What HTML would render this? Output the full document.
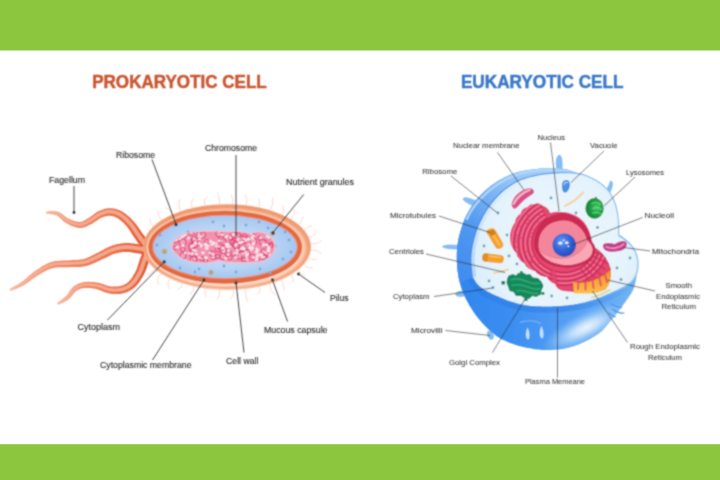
<!DOCTYPE html>
<html lang="en">
<head>
<meta charset="utf-8">
<title>Prokaryotic Cell vs Eukaryotic Cell</title>
<style>
html,body{margin:0;padding:0;background:#fff;}
body{width:720px;height:480px;overflow:hidden;position:relative;font-family:"Liberation Sans",sans-serif;}
.bar{position:absolute;left:0;width:720px;background:#8cc63f;}
#top{top:0;height:50.5px;}
#bot{top:444.2px;height:36px;}
svg{position:absolute;left:0;top:0;}
.t{font-family:"Liberation Sans",sans-serif;font-weight:bold;font-size:17.8px;stroke-width:0.5px;stroke-linejoin:round;}
.l{font-family:"Liberation Sans",sans-serif;font-size:8.4px;fill:#2c2c2c;stroke:#2c2c2c;stroke-width:0.12px;}
.l.e{font-size:7.8px;fill:#383838;stroke:#383838;stroke-width:0.06px;}
.ln{stroke:#3c3c3c;stroke-width:0.95;fill:none;}
</style>
</head>
<body>
<svg width="720" height="480" viewBox="0 0 720 480">
<defs>
<filter id="soft2" x="0" y="0" width="720" height="480" filterUnits="userSpaceOnUse"><feConvolveMatrix order="3" kernelMatrix="0.45 1 0.45 1 3.2 1 0.45 1 0.45" divisor="9" edgeMode="duplicate" preserveAlpha="false"/></filter>
<radialGradient id="cyto" cx="0.5" cy="0.5" r="0.6">
<stop offset="0" stop-color="#cfe2f9"/><stop offset="0.6" stop-color="#b6d2f4"/><stop offset="1" stop-color="#9cc0ee"/>
</radialGradient>
<linearGradient id="flg0" gradientUnits="userSpaceOnUse" x1="46" y1="0" x2="146" y2="0">
<stop offset="0" stop-color="#f8bba5"/><stop offset="0.3" stop-color="#f08a68"/><stop offset="0.8" stop-color="#e96b45"/><stop offset="1" stop-color="#de5832"/>
</linearGradient>
<linearGradient id="flg1" gradientUnits="userSpaceOnUse" x1="10" y1="0" x2="150" y2="0">
<stop offset="0" stop-color="#f8bba5"/><stop offset="0.3" stop-color="#f08a68"/><stop offset="0.8" stop-color="#e96b45"/><stop offset="1" stop-color="#de5832"/>
</linearGradient>
<linearGradient id="flg2" gradientUnits="userSpaceOnUse" x1="57" y1="0" x2="147" y2="0">
<stop offset="0" stop-color="#f8bba5"/><stop offset="0.3" stop-color="#f08a68"/><stop offset="0.8" stop-color="#e96b45"/><stop offset="1" stop-color="#de5832"/>
</linearGradient>
<linearGradient id="sph" gradientUnits="userSpaceOnUse" x1="460" y1="300" x2="640" y2="310">
<stop offset="0" stop-color="#3186ee"/><stop offset="0.3" stop-color="#3b8ef1"/><stop offset="0.55" stop-color="#509bf4"/><stop offset="0.85" stop-color="#66acf3"/><stop offset="1" stop-color="#76b8f3"/>
</linearGradient>
<radialGradient id="sphhl" gradientUnits="userSpaceOnUse" cx="0" cy="0" r="1" gradientTransform="translate(586 327.500) rotate(-27) scale(50 16)">
<stop offset="0" stop-color="#eaf5fe" stop-opacity="1"/><stop offset="0.3" stop-color="#c8e2fb" stop-opacity="0.95"/><stop offset="0.65" stop-color="#96c8f8" stop-opacity="0.6"/><stop offset="1" stop-color="#6fb0f5" stop-opacity="0"/>
</radialGradient>
<linearGradient id="shell" gradientUnits="userSpaceOnUse" x1="560" y1="170" x2="462" y2="270">
<stop offset="0" stop-color="#a9d3f9"/><stop offset="0.3" stop-color="#92c4f6"/><stop offset="0.5" stop-color="#74b1f3"/><stop offset="0.72" stop-color="#5099f1"/><stop offset="1" stop-color="#438eef"/>
</linearGradient>
<linearGradient id="band" gradientUnits="userSpaceOnUse" x1="520" y1="180" x2="472" y2="270">
<stop offset="0" stop-color="#c6e0f8" stop-opacity="0"/><stop offset="0.5" stop-color="#c0dcf8" stop-opacity="0.5"/><stop offset="1" stop-color="#b2d5f7" stop-opacity="0.95"/>
</linearGradient>
<radialGradient id="face" gradientUnits="userSpaceOnUse" cx="560" cy="245" r="95">
<stop offset="0" stop-color="#edf7fd"/><stop offset="0.7" stop-color="#e5f3fc"/><stop offset="1" stop-color="#d9eefa"/>
</radialGradient>
<radialGradient id="nucl" cx="0.4" cy="0.35" r="0.7">
<stop offset="0" stop-color="#6a9cf5"/><stop offset="0.5" stop-color="#3566d8"/><stop offset="1" stop-color="#2448b8"/>
</radialGradient>
<radialGradient id="lys" cx="0.62" cy="0.45" r="0.7">
<stop offset="0" stop-color="#45cc66"/><stop offset="0.45" stop-color="#1fa044"/><stop offset="1" stop-color="#0d7a32"/>
</radialGradient>
<linearGradient id="ser" x1="0" y1="0" x2="0" y2="1">
<stop offset="0" stop-color="#f08a2a"/><stop offset="1" stop-color="#fbc04a"/>
</linearGradient>
<linearGradient id="edge" gradientUnits="userSpaceOnUse" x1="475" y1="0" x2="620" y2="0">
<stop offset="0" stop-color="#3f86e6"/><stop offset="0.5" stop-color="#5b9dea"/><stop offset="0.75" stop-color="#86baf0"/><stop offset="1" stop-color="#8cbdee"/>
</linearGradient>
<linearGradient id="edgeb" gradientUnits="userSpaceOnUse" x1="475" y1="0" x2="638" y2="0">
<stop offset="0" stop-color="#2c7ee8"/><stop offset="0.6" stop-color="#3f8cec"/><stop offset="0.85" stop-color="#6fb0f0"/><stop offset="1" stop-color="#9ccbf2"/>
</linearGradient>
<linearGradient id="dband" gradientUnits="userSpaceOnUse" x1="475" y1="0" x2="638" y2="0">
<stop offset="0" stop-color="#2a7be6" stop-opacity="0.55"/><stop offset="0.6" stop-color="#2a7be6" stop-opacity="0.5"/><stop offset="0.85" stop-color="#3a88ea" stop-opacity="0.25"/><stop offset="1" stop-color="#4a98ee" stop-opacity="0"/>
</linearGradient>
<linearGradient id="caps" x1="0" y1="0" x2="0" y2="1">
<stop offset="0" stop-color="#f2a078"/><stop offset="0.5" stop-color="#f3a680"/><stop offset="1" stop-color="#f9c8ae"/>
</linearGradient>
<linearGradient id="caps2" x1="0" y1="0" x2="0" y2="1">
<stop offset="0" stop-color="#f8c09e"/><stop offset="0.5" stop-color="#f9c8aa"/><stop offset="1" stop-color="#fcdccc"/>
</linearGradient>
<clipPath id="sphclip"><path d="M566.0 169.3 L564.4 169.0 L563.0 168.7 L561.5 168.5 L560.2 168.4 L558.8 168.3 L557.5 168.3 L556.2 168.3 L554.8 168.3 L553.4 168.3 L552.0 168.3 L550.6 168.3 L549.1 168.3 L547.7 168.3 L546.3 168.3 L544.8 168.3 L543.3 168.4 L541.8 168.5 L540.2 168.6 L538.5 168.8 L536.7 169.0 L534.8 169.2 L532.7 169.5 L530.6 169.8 L528.4 170.1 L526.1 170.4 L523.9 170.8 L521.6 171.3 L519.3 171.8 L517.1 172.3 L515.0 173.0 L512.9 173.7 L510.8 174.5 L508.8 175.4 L506.7 176.3 L504.7 177.3 L502.7 178.4 L500.7 179.4 L498.8 180.6 L496.9 181.8 L495.0 183.0 L493.2 184.3 L491.3 185.6 L489.5 187.1 L487.7 188.5 L486.0 190.1 L484.2 191.6 L482.6 193.2 L481.0 194.8 L479.5 196.4 L478.0 198.0 L476.6 199.6 L475.3 201.3 L474.0 202.9 L472.8 204.6 L471.7 206.3 L470.6 208.0 L469.6 209.8 L468.6 211.5 L467.6 213.3 L466.7 215.0 L465.8 216.8 L465.0 218.6 L464.2 220.4 L463.5 222.2 L462.8 224.0 L462.2 225.8 L461.6 227.6 L461.0 229.4 L460.5 231.2 L460.0 233.0 L459.5 234.7 L459.1 236.4 L458.7 238.1 L458.4 239.7 L458.1 241.4 L457.8 243.0 L457.5 244.7 L457.3 246.4 L457.1 248.2 L457.0 250.0 L456.9 251.9 L456.8 253.9 L456.8 255.9 L456.8 257.9 L456.8 260.0 L456.9 262.1 L457.0 264.1 L457.2 266.1 L457.3 268.1 L457.5 270.0 L457.7 271.8 L458.0 273.6 L458.3 275.4 L458.6 277.2 L458.9 278.9 L459.3 280.6 L459.7 282.2 L460.1 283.8 L460.5 285.4 L461.0 287.0 L461.5 288.5 L462.0 289.9 L462.5 291.3 L463.0 292.7 L463.5 294.0 L464.1 295.3 L464.8 296.7 L465.4 298.1 L466.2 299.5 L467.0 301.0 L467.9 302.6 L468.8 304.2 L469.7 305.9 L470.8 307.6 L471.8 309.3 L472.9 311.1 L474.1 312.8 L475.3 314.6 L476.6 316.3 L478.0 318.0 L479.5 319.7 L481.0 321.5 L482.7 323.4 L484.4 325.2 L486.1 327.0 L487.9 328.8 L489.7 330.5 L491.5 332.1 L493.3 333.6 L495.0 335.0 L496.7 336.2 L498.4 337.3 L500.0 338.3 L501.7 339.2 L503.4 340.0 L505.1 340.8 L506.7 341.5 L508.4 342.2 L510.0 342.9 L511.7 343.5 L513.3 344.1 L515.0 344.7 L516.6 345.2 L518.2 345.7 L519.8 346.2 L521.4 346.6 L523.0 347.0 L524.6 347.3 L526.3 347.7 L528.0 348.0 L529.7 348.3 L531.5 348.6 L533.2 348.9 L535.0 349.2 L536.8 349.4 L538.6 349.6 L540.4 349.8 L542.2 349.9 L544.1 350.0 L546.0 350.0 L547.9 350.0 L549.9 350.0 L551.9 349.9 L554.0 349.8 L556.0 349.6 L558.0 349.4 L560.1 349.2 L562.1 348.9 L564.1 348.6 L566.0 348.2 L567.9 347.8 L569.8 347.3 L571.6 346.8 L573.4 346.2 L575.2 345.6 L577.0 344.9 L578.8 344.2 L580.6 343.5 L582.3 342.8 L584.0 342.0 L585.7 341.2 L587.4 340.3 L589.1 339.4 L590.8 338.5 L592.5 337.6 L594.1 336.6 L595.7 335.6 L597.2 334.5 L598.7 333.5 L600.0 332.5 L601.3 331.5 L602.4 330.4 L603.5 329.2 L604.6 328.1 L605.5 327.0 L606.5 325.8 L607.4 324.7 L608.3 323.6 L609.1 322.5 L610.0 321.5 L610.8 320.5 L611.6 319.6 L612.4 318.8 L613.1 317.9 L613.8 317.1 L614.5 316.3 L615.2 315.4 L615.9 314.5 L616.7 313.6 L617.5 312.5 L618.4 311.3 L619.3 310.1 L620.3 308.8 L621.3 307.4 L622.3 306.0 L623.4 304.6 L624.3 303.3 L625.3 301.9 L626.2 300.7 L627.0 299.5 L627.8 298.4 L628.5 297.4 L629.1 296.5 L629.8 295.6 L630.4 294.7 L631.0 293.8 L631.5 292.9 L632.0 292.0 L632.5 291.0 L633.0 290.0 L633.5 288.9 L633.9 287.7 L634.3 286.5 L634.7 285.3 L635.0 284.0 L635.3 282.8 L635.6 281.5 L635.9 280.3 L636.1 279.1 L636.3 278.0 L636.5 276.9 L636.6 275.9 L636.7 274.9 L636.7 273.9 L636.8 272.9 L636.8 271.9 L636.7 270.9 L636.7 270.0 L636.6 269.0 L636.5 268.0 L636.4 267.0 L636.3 266.0 L636.2 265.1 L636.0 264.1 L635.8 263.1 L635.6 262.1 L635.3 261.1 L635.0 260.1 L634.5 259.1 L634.0 258.0 L633.4 256.9 L632.6 255.8 L631.8 254.7 L630.9 253.6 L630.0 252.5 L629.0 251.3 L628.0 250.1 L627.0 248.8 L626.0 247.5 L625.0 246.0 L624.0 244.5 L623.0 242.9 L621.9 241.4 L620.8 239.7 L619.7 238.0 L618.6 236.2 L617.6 234.3 L616.6 232.3 L615.8 230.2 L615.0 228.0 L614.4 225.5 L614.0 222.8 L613.6 219.9 L613.4 216.9 L613.2 213.8 L613.0 210.8 L612.7 207.8 L612.3 205.0 L611.7 202.3 L611.0 200.0 L610.1 197.9 L609.0 196.0 L607.8 194.2 L606.5 192.6 L605.1 191.0 L603.7 189.6 L602.3 188.2 L600.8 187.0 L599.4 185.7 L598.0 184.5 L596.7 183.4 L595.3 182.3 L594.0 181.4 L592.7 180.5 L591.3 179.7 L589.9 178.9 L588.5 178.2 L587.1 177.5 L585.6 176.7 L584.0 176.0 L582.3 175.2 L580.6 174.5 L578.8 173.7 L576.9 172.9 L575.0 172.2 L573.1 171.5 L571.2 170.8 L569.4 170.2 L567.7 169.7Z"/></clipPath>
<clipPath id="faceclip"><path d="M618.6 235.3 L618.9 235.5 L619.2 235.7 L619.7 235.9 L620.1 236.2 L620.6 236.5 L621.2 236.9 L621.8 237.3 L622.3 237.6 L622.9 238.1 L623.5 238.5 L624.1 239.0 L624.7 239.5 L625.4 240.0 L626.1 240.5 L626.7 241.1 L627.4 241.7 L628.1 242.3 L628.8 242.9 L629.4 243.6 L630.0 244.2 L630.6 244.8 L631.1 245.5 L631.7 246.1 L632.2 246.8 L632.8 247.5 L633.3 248.2 L633.7 248.9 L634.2 249.6 L634.6 250.3 L635.0 251.0 L635.4 251.7 L635.7 252.5 L636.0 253.2 L636.2 254.0 L636.5 254.8 L636.7 255.5 L636.9 256.3 L637.1 257.1 L637.3 257.8 L637.4 258.5 L637.5 259.2 L637.6 259.9 L637.7 260.5 L637.8 261.1 L637.8 261.8 L637.8 262.4 L637.8 263.0 L637.8 263.7 L637.8 264.3 L637.8 265.0 L637.8 265.7 L637.8 266.4 L637.7 267.0 L637.7 267.7 L637.7 268.4 L637.6 269.1 L637.5 269.8 L637.4 270.5 L637.2 271.3 L637.0 272.0 L636.7 272.8 L636.5 273.6 L636.2 274.4 L635.8 275.2 L635.5 276.0 L635.0 276.9 L634.6 277.7 L634.1 278.5 L633.6 279.3 L633.0 280.0 L632.4 280.7 L631.7 281.4 L631.1 282.1 L630.3 282.7 L629.6 283.3 L628.8 284.0 L627.9 284.6 L627.0 285.2 L626.0 285.9 L625.0 286.5 L623.9 287.1 L622.8 287.8 L621.6 288.4 L620.4 289.1 L619.1 289.7 L617.7 290.4 L616.4 291.0 L614.9 291.7 L613.5 292.3 L612.0 293.0 L610.5 293.7 L608.9 294.4 L607.2 295.1 L605.5 295.9 L603.8 296.6 L602.0 297.4 L600.2 298.1 L598.5 298.8 L596.7 299.4 L595.0 300.0 L593.3 300.6 L591.7 301.1 L590.1 301.6 L588.4 302.1 L586.8 302.5 L585.2 303.0 L583.5 303.4 L581.7 303.8 L579.9 304.1 L578.0 304.5 L576.0 304.8 L574.0 305.2 L571.9 305.5 L569.8 305.8 L567.6 306.1 L565.3 306.3 L563.1 306.5 L560.7 306.7 L558.4 306.9 L556.0 307.0 L553.5 307.1 L551.0 307.2 L548.3 307.2 L545.6 307.2 L542.9 307.2 L540.2 307.1 L537.5 307.0 L534.9 306.9 L532.4 306.7 L530.0 306.5 L527.7 306.2 L525.6 305.9 L523.5 305.5 L521.4 305.1 L519.4 304.7 L517.5 304.2 L515.6 303.7 L513.7 303.1 L511.9 302.6 L510.0 302.0 L508.2 301.4 L506.3 300.7 L504.5 300.1 L502.7 299.3 L500.9 298.6 L499.2 297.8 L497.6 297.1 L496.0 296.4 L494.4 295.7 L493.0 295.0 L491.6 294.4 L490.3 293.7 L489.1 293.1 L487.9 292.5 L486.8 291.9 L485.8 291.3 L484.7 290.7 L483.8 290.2 L482.9 289.6 L482.0 289.0 L481.2 288.4 L480.4 287.9 L479.8 287.3 L479.1 286.8 L478.5 286.2 L478.0 285.7 L477.5 285.2 L477.0 284.6 L476.5 284.1 L476.0 283.5 L475.5 282.9 L475.1 282.2 L474.6 281.5 L474.2 280.8 L473.8 280.2 L473.4 279.5 L473.1 278.9 L472.8 278.3 L472.5 277.9 L472.3 277.5 L472.2 276.6 L472.1 275.3 L471.9 273.9 L471.7 272.2 L471.5 270.5 L471.3 268.7 L471.1 266.9 L471.0 265.1 L470.9 263.5 L470.8 262.0 L470.8 260.7 L470.8 259.4 L470.8 258.2 L470.8 257.0 L470.9 255.8 L471.0 254.7 L471.1 253.6 L471.2 252.4 L471.3 251.2 L471.5 250.0 L471.7 248.7 L471.9 247.5 L472.1 246.2 L472.4 244.9 L472.7 243.6 L472.9 242.2 L473.3 240.9 L473.6 239.6 L473.9 238.3 L474.3 237.0 L474.7 235.7 L475.1 234.4 L475.5 233.1 L475.9 231.8 L476.4 230.5 L476.8 229.2 L477.3 227.9 L477.9 226.6 L478.4 225.3 L479.0 224.0 L479.6 222.7 L480.2 221.3 L480.9 219.9 L481.6 218.6 L482.3 217.2 L483.0 215.8 L483.8 214.5 L484.6 213.1 L485.4 211.8 L486.2 210.5 L487.0 209.2 L487.9 207.9 L488.8 206.7 L489.7 205.4 L490.6 204.1 L491.6 202.9 L492.5 201.7 L493.5 200.5 L494.5 199.3 L495.5 198.2 L496.5 197.1 L497.5 196.0 L498.6 194.9 L499.6 193.9 L500.7 192.8 L501.8 191.8 L502.9 190.8 L504.1 189.9 L505.3 188.9 L506.5 188.0 L507.8 187.1 L509.1 186.2 L510.4 185.3 L511.7 184.4 L513.1 183.6 L514.5 182.7 L515.9 181.9 L517.4 181.2 L518.9 180.5 L520.5 179.8 L522.1 179.2 L523.8 178.6 L525.6 178.0 L527.4 177.5 L529.2 177.0 L531.1 176.5 L532.9 176.1 L534.7 175.7 L536.4 175.3 L538.0 175.0 L539.5 174.7 L541.0 174.4 L542.5 174.2 L543.9 174.0 L545.2 173.8 L546.6 173.7 L547.9 173.6 L549.3 173.4 L550.6 173.3 L552.0 173.2 L553.4 173.1 L554.8 173.0 L556.3 172.9 L557.7 172.8 L559.1 172.7 L560.5 172.7 L561.9 172.6 L563.3 172.6 L564.7 172.6 L566.0 172.6 L567.3 172.6 L568.6 172.7 L569.8 172.7 L571.1 172.8 L572.3 172.9 L573.5 173.0 L574.7 173.1 L575.8 173.3 L576.9 173.4 L578.0 173.6 L579.0 173.8 L579.9 173.9 L580.8 174.1 L581.6 174.2 L582.4 174.4 L583.3 174.6 L584.1 174.9 L585.0 175.2 L586.0 175.6 L587.0 176.0 L588.2 176.5 L589.4 177.1 L590.7 177.7 L592.1 178.3 L593.4 179.0 L594.8 179.8 L596.2 180.5 L597.5 181.3 L598.8 182.2 L600.0 183.0 L601.1 183.9 L602.3 184.8 L603.3 185.7 L604.4 186.6 L605.4 187.6 L606.4 188.6 L607.4 189.6 L608.3 190.7 L609.2 191.8 L610.0 193.0 L610.8 194.2 L611.5 195.5 L612.2 196.8 L612.9 198.1 L613.5 199.5 L614.1 200.9 L614.6 202.3 L615.1 203.7 L615.6 205.1 L616.0 206.5 L616.4 207.9 L616.7 209.3 L617.0 210.7 L617.3 212.1 L617.5 213.5 L617.7 214.9 L617.9 216.2 L618.0 217.5 L618.2 218.8 L618.3 220.0 L618.4 221.2 L618.5 222.3 L618.5 223.4 L618.6 224.5 L618.6 225.5 L618.6 226.5 L618.6 227.5 L618.6 228.4 L618.6 229.2 L618.6 230.0 L618.6 230.7 L618.6 231.4 L618.6 232.1 L618.6 232.7 L618.6 233.3 L618.6 233.8 L618.6 234.2 L618.6 234.7 L618.6 235.0 L618.6 235.3Z"/></clipPath>
<clipPath id="shellclip"><path d="M430 293.500 L473 277.500 L560 240 L670 240 L670 140 L430 140 Z"/></clipPath>
<clipPath id="erclip"><path d="M510 240 C509.500 233 512 226 515 222.500 C515.500 218 518 215 520.500 214 C521.500 210 524 207.500 527 207.500 C529 204.500 532 203.500 535 204 C538 203 541.500 204 543 206 C546 206.500 549 209 550 213 C560 210 575 212 584 222 C589 228 592 238 593 246 C600 250 608 258 610.500 268 C611.500 276 609.500 285 605 290 L574 292 L563 291 C559 290 556 287.500 555 284 C551 282.500 548 280 547 277 C541 276.500 537 274 535 271 C530 270 526 267 524.500 263 C520 261 517 257 516.500 253 C513 250 510.500 245 510 240 Z"/></clipPath>

</defs>
<rect x="0" y="0" width="720" height="50.5" fill="#8cc63f"/>
<rect x="0" y="444.2" width="720" height="35.8" fill="#8cc63f"/>
<g filter="url(#soft2)">
<g id="prok">
<g stroke="#f8d3cb" stroke-width="0.9" fill="none" stroke-linecap="round"><path d="M155.6 227.1 Q149.0 224.7 150.2 218.0"/><path d="M162.9 221.7 Q157.8 216.8 157.4 211.2"/><path d="M171.8 216.9 Q172.2 209.4 165.2 207.4"/><path d="M182.2 212.9 Q177.1 206.4 179.6 199.5"/><path d="M193.8 209.8 Q188.8 204.1 193.4 198.4"/><path d="M206.2 207.6 Q201.8 201.8 206.9 196.8"/><path d="M219.1 206.4 Q220.7 198.4 217.2 192.6"/><path d="M232.3 206.3 Q234.2 199.9 231.6 195.4"/><path d="M245.3 207.2 Q248.9 200.3 245.1 194.5"/><path d="M257.8 209.2 Q261.2 203.8 258.5 199.1"/><path d="M269.6 212.2 Q273.5 204.7 273.0 197.9"/><path d="M280.2 216.1 Q286.0 211.6 282.4 205.3"/><path d="M289.5 220.7 Q295.2 216.0 294.3 209.6"/><path d="M297.1 226.0 Q302.6 222.3 303.0 217.0"/><path d="M302.9 231.8 Q306.8 226.4 312.0 225.7"/><path d="M306.8 237.8 Q314.2 237.4 316.7 231.3"/><path d="M308.8 244.0 Q316.4 244.7 321.3 240.9"/><path d="M308.8 250.2 Q316.6 248.8 321.4 253.7"/><path d="M306.8 256.4 Q311.4 261.0 316.6 259.6"/><path d="M302.9 262.4 Q306.1 269.0 312.7 268.0"/><path d="M297.1 268.2 Q299.6 274.0 304.4 275.4"/><path d="M289.5 273.5 Q294.2 277.3 293.1 282.2"/><path d="M280.2 278.1 Q284.7 284.1 284.1 290.0"/><path d="M269.6 282.0 Q269.5 290.7 275.4 295.5"/><path d="M257.8 285.0 Q262.6 289.7 257.5 294.5"/><path d="M245.3 287.0 Q244.7 295.4 247.9 301.5"/><path d="M232.3 287.9 Q235.9 294.2 230.5 298.7"/><path d="M219.1 287.8 Q221.0 294.6 217.2 299.2"/><path d="M206.2 286.6 Q203.2 292.4 206.2 296.9"/><path d="M193.8 284.4 Q194.7 291.1 190.1 294.4"/><path d="M182.2 281.3 Q183.0 287.4 177.9 289.4"/><path d="M171.8 277.3 Q165.4 281.6 169.4 288.4"/><path d="M162.9 272.5 Q155.7 276.5 158.3 284.2"/><path d="M155.6 267.1 Q152.4 273.3 147.1 275.0"/></g>
<path d="M45.9 213.3 L46.5 213.6 L47.2 213.8 L48.1 213.9 L49.0 214.0 L50.0 214.1 L51.1 214.3 L52.1 214.4 L53.2 214.6 L54.2 214.8 L55.1 215.0 L56.0 215.3 L56.8 215.6 L57.4 215.9 L58.1 216.4 L58.8 216.9 L59.5 217.5 L60.2 218.2 L60.9 218.9 L61.7 219.6 L62.5 220.4 L63.3 221.2 L64.3 221.9 L65.3 222.6 L66.3 223.3 L67.3 223.8 L68.4 224.3 L69.4 224.9 L70.5 225.4 L71.7 225.9 L72.8 226.3 L74.0 226.8 L75.2 227.1 L76.4 227.5 L77.6 227.7 L78.8 227.9 L80.0 228.0 L81.2 228.0 L82.4 227.8 L83.5 227.6 L84.6 227.3 L85.6 226.9 L86.5 226.5 L87.4 226.0 L88.3 225.6 L89.1 225.2 L90.0 224.7 L90.7 224.3 L91.6 223.9 L92.5 223.4 L93.5 222.8 L94.4 222.2 L95.3 221.6 L96.2 221.0 L97.0 220.4 L97.8 219.9 L98.6 219.3 L99.4 218.8 L100.1 218.4 L100.8 218.1 L101.5 217.7 L102.2 217.4 L103.0 217.1 L103.8 216.9 L104.5 216.6 L105.2 216.4 L106.0 216.2 L106.7 216.1 L107.3 215.9 L108.0 215.9 L108.7 215.8 L109.3 215.8 L109.9 215.8 L110.6 215.9 L111.2 215.9 L111.9 216.0 L112.6 216.2 L113.2 216.3 L113.9 216.5 L114.6 216.8 L115.2 217.0 L115.9 217.4 L116.6 217.7 L117.3 218.1 L118.0 218.5 L118.7 218.9 L119.4 219.4 L120.1 220.0 L120.8 220.6 L121.6 221.2 L122.3 221.9 L123.1 222.6 L123.9 223.3 L124.6 224.1 L125.4 224.9 L126.1 225.7 L126.8 226.5 L127.5 227.3 L128.1 228.2 L128.8 229.1 L129.5 230.1 L130.2 231.2 L130.9 232.2 L131.5 233.3 L132.2 234.4 L132.9 235.5 L133.6 236.6 L134.3 237.6 L135.0 238.6 L135.7 239.6 L136.4 240.6 L137.1 241.6 L137.8 242.6 L138.5 243.6 L139.1 244.5 L139.8 245.4 L140.4 246.3 L140.9 247.0 L141.4 247.7 L141.8 248.3 L142.2 248.8 L149.8 243.2 L149.5 242.7 L149.0 242.1 L148.5 241.5 L147.9 240.7 L147.3 239.9 L146.7 239.0 L146.0 238.1 L145.2 237.1 L144.5 236.2 L143.8 235.2 L143.1 234.3 L142.4 233.4 L141.7 232.5 L141.1 231.5 L140.4 230.5 L139.7 229.5 L138.9 228.4 L138.2 227.3 L137.4 226.2 L136.6 225.1 L135.8 224.0 L135.0 222.9 L134.1 221.9 L133.2 220.9 L132.3 219.9 L131.5 219.0 L130.6 218.2 L129.7 217.3 L128.8 216.5 L127.8 215.7 L126.9 214.9 L125.9 214.1 L125.0 213.4 L124.0 212.7 L123.0 212.1 L122.0 211.5 L121.1 211.0 L120.1 210.5 L119.1 210.1 L118.1 209.7 L117.1 209.4 L116.1 209.1 L115.1 208.8 L114.1 208.6 L113.1 208.4 L112.1 208.3 L111.1 208.2 L110.1 208.2 L109.0 208.2 L108.0 208.3 L107.0 208.4 L106.0 208.6 L105.0 208.8 L104.0 209.1 L103.1 209.4 L102.2 209.7 L101.2 210.1 L100.3 210.4 L99.4 210.8 L98.5 211.3 L97.5 211.8 L96.5 212.3 L95.6 213.0 L94.7 213.6 L93.8 214.2 L93.0 214.9 L92.2 215.5 L91.4 216.1 L90.6 216.7 L89.9 217.2 L89.2 217.7 L88.4 218.1 L87.6 218.6 L86.8 219.1 L86.0 219.6 L85.2 220.0 L84.5 220.4 L83.8 220.8 L83.1 221.2 L82.5 221.4 L81.9 221.7 L81.2 221.8 L80.6 222.0 L80.0 222.0 L79.3 222.0 L78.5 221.9 L77.6 221.8 L76.7 221.6 L75.7 221.4 L74.7 221.1 L73.6 220.7 L72.6 220.4 L71.6 220.0 L70.6 219.6 L69.6 219.1 L68.7 218.7 L67.9 218.3 L67.1 217.9 L66.4 217.4 L65.6 216.8 L64.8 216.1 L64.0 215.5 L63.1 214.8 L62.2 214.1 L61.3 213.4 L60.4 212.8 L59.3 212.3 L58.2 211.8 L57.1 211.5 L55.9 211.3 L54.7 211.1 L53.5 211.0 L52.4 211.0 L51.2 211.0 L50.1 211.1 L49.1 211.2 L48.1 211.3 L47.3 211.4 L46.6 211.5 L46.1 211.7Z" fill="url(#flg0)"/>
<path d="M46.0 212.7 L46.5 212.9 L47.3 213.0 L48.1 213.0 L49.0 213.1 L50.0 213.2 L51.1 213.2 L52.2 213.3 L53.3 213.5 L54.4 213.6 L55.4 213.9 L56.3 214.1 L57.2 214.4 L58.0 214.8 L58.8 215.3 L59.5 215.9 L60.3 216.5 L61.1 217.2 L61.8 217.9 L62.6 218.6 L63.4 219.3 L64.2 220.0 L65.1 220.7 L66.0 221.4 L67.0 221.9 L68.0 222.4 L69.0 222.9 L70.1 223.4 L71.1 223.9 L72.3 224.4 L73.4 224.8 L74.5 225.2 L75.6 225.5 L76.7 225.8 L77.8 226.0 L78.9 226.2 L80.0 226.3 L81.0 226.2 L82.0 226.1 L83.0 225.9 L84.0 225.6 L84.9 225.2 L85.7 224.8 L86.6 224.4 L87.4 224.0 L88.2 223.5 L89.0 223.1 L89.8 222.7 L90.7 222.2 L91.5 221.7 L92.4 221.2 L93.3 220.6 L94.2 220.0 L95.0 219.4 L95.9 218.8 L96.7 218.3 L97.5 217.7 L98.3 217.2 L99.1 216.7 L99.9 216.3 L100.6 215.9 L101.4 215.6 L102.2 215.2 L103.0 214.9 L103.8 214.7 L104.6 214.4 L105.4 214.2 L106.2 214.0 L107.0 213.9 L107.7 213.7 L108.5 213.7 L109.2 213.6 L110.0 213.6 L110.7 213.7 L111.5 213.8 L112.2 213.9 L113.0 214.0 L113.8 214.2 L114.5 214.4 L115.3 214.7 L116.0 215.0 L116.8 215.3 L117.6 215.7 L118.3 216.1 L119.1 216.5 L119.9 217.0 L120.7 217.5 L121.5 218.1 L122.3 218.7 L123.1 219.4 L123.9 220.1 L124.7 220.9 L125.5 221.6 L126.3 222.4 L127.1 223.3 L127.8 224.1 L128.6 224.9 L129.3 225.8 L130.0 226.7 L130.8 227.7 L131.5 228.7 L132.2 229.8 L132.9 230.8 L133.6 231.9 L134.3 233.0 L135.0 234.1 L135.7 235.1 L136.4 236.2 L137.1 237.2 L137.8 238.1 L138.4 239.1 L139.2 240.1 L139.9 241.1 L140.6 242.0 L141.2 243.0 L141.9 243.9 L142.5 244.7 L143.0 245.5 L143.5 246.2 L144.0 246.8 L144.3 247.2 L147.7 244.8 L147.3 244.3 L146.9 243.7 L146.4 243.0 L145.8 242.3 L145.2 241.4 L144.6 240.6 L143.9 239.6 L143.2 238.7 L142.4 237.7 L141.7 236.7 L141.0 235.8 L140.3 234.8 L139.7 233.9 L139.0 232.9 L138.3 231.9 L137.6 230.9 L136.9 229.8 L136.1 228.7 L135.4 227.6 L134.6 226.5 L133.8 225.4 L133.0 224.4 L132.2 223.4 L131.4 222.5 L130.6 221.6 L129.7 220.7 L128.9 219.8 L128.0 219.0 L127.2 218.2 L126.3 217.4 L125.4 216.7 L124.5 215.9 L123.6 215.3 L122.7 214.6 L121.8 214.0 L120.9 213.5 L120.0 213.0 L119.1 212.5 L118.2 212.1 L117.3 211.8 L116.4 211.5 L115.5 211.2 L114.6 210.9 L113.7 210.7 L112.8 210.6 L111.9 210.5 L110.9 210.4 L110.0 210.4 L109.1 210.4 L108.2 210.4 L107.3 210.5 L106.4 210.7 L105.5 210.9 L104.6 211.1 L103.7 211.4 L102.8 211.7 L102.0 212.0 L101.1 212.3 L100.2 212.7 L99.4 213.1 L98.5 213.6 L97.6 214.1 L96.7 214.6 L95.8 215.2 L95.0 215.8 L94.1 216.5 L93.3 217.1 L92.5 217.7 L91.7 218.3 L90.9 218.8 L90.1 219.3 L89.3 219.8 L88.5 220.2 L87.7 220.7 L86.9 221.2 L86.1 221.6 L85.3 222.1 L84.6 222.5 L83.8 222.8 L83.1 223.1 L82.3 223.4 L81.6 223.6 L80.8 223.7 L80.0 223.7 L79.1 223.7 L78.2 223.6 L77.2 223.5 L76.2 223.2 L75.2 222.9 L74.1 222.6 L73.1 222.2 L72.0 221.8 L70.9 221.4 L69.9 221.0 L68.9 220.5 L68.0 220.1 L67.1 219.6 L66.3 219.1 L65.5 218.5 L64.7 217.8 L63.9 217.2 L63.1 216.5 L62.2 215.8 L61.4 215.1 L60.6 214.5 L59.7 213.9 L58.8 213.4 L57.8 213.0 L56.8 212.7 L55.7 212.4 L54.6 212.2 L53.4 212.1 L52.3 212.1 L51.2 212.1 L50.1 212.1 L49.0 212.1 L48.1 212.1 L47.3 212.2 L46.6 212.2 L46.0 212.3Z" fill="#f8b49b" opacity="0.8" transform="translate(0 -0.4)"/>
<path d="M10.3 290.7 L11.0 290.7 L11.8 290.5 L12.7 290.2 L13.7 289.8 L14.8 289.4 L16.0 289.0 L17.2 288.5 L18.5 287.9 L19.8 287.4 L21.0 286.7 L22.3 286.1 L23.6 285.4 L24.8 284.6 L26.1 283.8 L27.4 282.9 L28.7 281.9 L30.0 281.0 L31.3 280.0 L32.6 279.0 L33.9 278.1 L35.2 277.2 L36.5 276.3 L37.7 275.5 L38.9 274.7 L40.2 274.0 L41.4 273.3 L42.6 272.6 L43.8 271.9 L45.0 271.3 L46.2 270.7 L47.4 270.1 L48.5 269.6 L49.7 269.1 L50.9 268.7 L52.1 268.3 L53.3 268.0 L54.5 267.7 L55.8 267.5 L57.1 267.4 L58.5 267.3 L59.9 267.2 L61.4 267.2 L62.8 267.2 L64.3 267.2 L65.8 267.2 L67.3 267.2 L68.8 267.2 L70.2 267.1 L71.5 267.1 L72.8 267.0 L74.0 267.0 L75.3 267.0 L76.5 267.0 L77.8 267.0 L79.1 267.0 L80.4 266.9 L81.7 266.8 L83.1 266.6 L84.5 266.4 L85.9 266.1 L87.4 265.7 L88.8 265.3 L90.2 264.8 L91.6 264.2 L93.0 263.6 L94.3 263.0 L95.6 262.4 L96.9 261.8 L98.2 261.2 L99.4 260.7 L100.5 260.1 L101.7 259.6 L102.9 259.1 L104.0 258.5 L105.2 258.0 L106.2 257.4 L107.3 256.9 L108.3 256.4 L109.3 255.9 L110.2 255.4 L111.2 255.0 L112.1 254.6 L113.0 254.3 L113.9 254.0 L114.8 253.7 L115.8 253.4 L116.7 253.1 L117.7 252.9 L118.7 252.7 L119.6 252.5 L120.5 252.4 L121.5 252.2 L122.4 252.1 L123.4 252.0 L124.3 251.9 L125.2 251.9 L126.1 251.9 L127.0 251.9 L127.9 251.9 L128.8 252.0 L129.7 252.1 L130.6 252.2 L131.6 252.4 L132.6 252.5 L133.6 252.7 L134.7 252.9 L135.8 253.1 L136.9 253.2 L138.0 253.4 L139.1 253.6 L140.4 253.8 L141.6 254.0 L142.9 254.3 L144.2 254.5 L145.5 254.8 L146.6 255.0 L147.7 255.2 L148.7 255.4 L149.5 255.6 L150.2 255.7 L151.8 246.3 L151.2 246.2 L150.4 246.1 L149.4 245.9 L148.3 245.7 L147.1 245.5 L145.8 245.3 L144.5 245.1 L143.2 244.9 L141.9 244.7 L140.6 244.5 L139.3 244.3 L138.1 244.2 L137.1 244.0 L136.0 243.9 L135.0 243.8 L133.9 243.6 L132.8 243.5 L131.7 243.4 L130.6 243.2 L129.5 243.1 L128.3 243.1 L127.2 243.1 L126.0 243.1 L124.8 243.1 L123.6 243.2 L122.5 243.3 L121.3 243.5 L120.2 243.6 L119.0 243.9 L117.9 244.1 L116.8 244.3 L115.6 244.6 L114.5 244.9 L113.4 245.3 L112.3 245.6 L111.1 246.0 L110.0 246.5 L108.8 247.0 L107.7 247.5 L106.6 248.0 L105.6 248.6 L104.5 249.1 L103.5 249.7 L102.5 250.2 L101.4 250.8 L100.4 251.3 L99.4 251.9 L98.3 252.4 L97.1 253.0 L95.9 253.6 L94.7 254.2 L93.5 254.8 L92.2 255.5 L91.0 256.1 L89.8 256.7 L88.6 257.2 L87.4 257.7 L86.3 258.2 L85.2 258.6 L84.1 258.9 L83.0 259.2 L82.0 259.4 L80.9 259.6 L79.8 259.7 L78.7 259.8 L77.5 259.9 L76.3 259.9 L75.1 260.0 L73.8 260.0 L72.5 260.1 L71.1 260.2 L69.8 260.3 L68.5 260.4 L67.1 260.5 L65.7 260.5 L64.2 260.6 L62.7 260.6 L61.1 260.7 L59.6 260.8 L58.0 260.9 L56.4 261.1 L54.8 261.3 L53.3 261.6 L51.7 262.0 L50.2 262.5 L48.8 263.0 L47.4 263.6 L46.1 264.2 L44.8 264.9 L43.5 265.6 L42.2 266.3 L41.0 267.1 L39.8 267.9 L38.5 268.7 L37.3 269.5 L36.1 270.3 L34.8 271.2 L33.5 272.1 L32.2 273.2 L30.9 274.2 L29.6 275.3 L28.4 276.3 L27.1 277.4 L25.9 278.4 L24.8 279.4 L23.6 280.4 L22.5 281.2 L21.4 282.0 L20.3 282.7 L19.2 283.5 L18.1 284.2 L16.9 284.8 L15.8 285.5 L14.6 286.1 L13.6 286.7 L12.6 287.3 L11.7 287.8 L10.8 288.3 L10.1 288.8 L9.7 289.3Z" fill="url(#flg1)"/>
<path d="M10.1 290.2 L10.7 290.0 L11.5 289.7 L12.4 289.4 L13.3 289.0 L14.4 288.6 L15.6 288.1 L16.7 287.5 L18.0 287.0 L19.2 286.4 L20.5 285.7 L21.7 285.1 L22.9 284.4 L24.1 283.6 L25.3 282.7 L26.6 281.8 L27.9 280.9 L29.1 279.9 L30.4 278.9 L31.7 277.9 L33.0 276.9 L34.3 276.0 L35.6 275.1 L36.8 274.2 L38.1 273.4 L39.3 272.7 L40.6 271.9 L41.8 271.2 L43.0 270.5 L44.2 269.8 L45.4 269.2 L46.6 268.6 L47.8 268.0 L49.0 267.5 L50.3 267.0 L51.6 266.6 L52.8 266.2 L54.1 265.9 L55.5 265.7 L56.9 265.6 L58.3 265.4 L59.8 265.4 L61.3 265.3 L62.8 265.3 L64.3 265.3 L65.8 265.3 L67.2 265.3 L68.7 265.2 L70.1 265.2 L71.4 265.1 L72.7 265.0 L74.0 265.0 L75.2 265.0 L76.5 265.0 L77.7 265.0 L79.0 264.9 L80.2 264.8 L81.5 264.7 L82.8 264.6 L84.1 264.3 L85.4 264.0 L86.7 263.7 L88.1 263.2 L89.4 262.8 L90.7 262.2 L92.1 261.7 L93.4 261.1 L94.7 260.5 L95.9 259.8 L97.2 259.2 L98.4 258.7 L99.6 258.1 L100.7 257.6 L101.9 257.0 L103.0 256.5 L104.1 255.9 L105.2 255.4 L106.2 254.9 L107.2 254.3 L108.2 253.8 L109.2 253.3 L110.2 252.9 L111.2 252.5 L112.1 252.1 L113.1 251.7 L114.1 251.4 L115.1 251.1 L116.1 250.8 L117.1 250.6 L118.1 250.4 L119.1 250.1 L120.1 250.0 L121.1 249.8 L122.1 249.7 L123.1 249.6 L124.1 249.5 L125.1 249.4 L126.1 249.4 L127.0 249.4 L128.0 249.5 L129.0 249.5 L130.0 249.6 L130.9 249.8 L132.0 249.9 L133.0 250.0 L134.0 250.2 L135.1 250.4 L136.1 250.5 L137.2 250.7 L138.3 250.9 L139.5 251.0 L140.8 251.3 L142.1 251.5 L143.4 251.7 L144.7 252.0 L145.9 252.2 L147.1 252.4 L148.2 252.6 L149.1 252.8 L150.0 252.9 L150.6 253.1 L151.4 248.9 L150.7 248.8 L149.9 248.7 L148.9 248.5 L147.8 248.3 L146.6 248.1 L145.4 247.9 L144.1 247.7 L142.8 247.5 L141.5 247.2 L140.2 247.0 L138.9 246.9 L137.8 246.7 L136.7 246.6 L135.7 246.4 L134.6 246.3 L133.5 246.1 L132.5 246.0 L131.4 245.8 L130.4 245.7 L129.3 245.6 L128.2 245.6 L127.1 245.5 L126.0 245.5 L124.9 245.6 L123.8 245.7 L122.7 245.8 L121.6 245.9 L120.5 246.1 L119.5 246.2 L118.4 246.5 L117.3 246.7 L116.2 247.0 L115.1 247.2 L114.1 247.6 L113.0 247.9 L111.9 248.3 L110.8 248.7 L109.7 249.1 L108.7 249.6 L107.6 250.1 L106.6 250.6 L105.6 251.2 L104.6 251.7 L103.5 252.3 L102.5 252.8 L101.4 253.4 L100.4 253.9 L99.3 254.4 L98.1 255.0 L96.9 255.6 L95.7 256.2 L94.4 256.8 L93.2 257.4 L91.9 258.0 L90.7 258.6 L89.4 259.2 L88.2 259.7 L87.0 260.2 L85.8 260.6 L84.6 261.0 L83.4 261.2 L82.3 261.4 L81.1 261.6 L80.0 261.7 L78.8 261.8 L77.6 261.9 L76.4 261.9 L75.2 262.0 L73.9 262.0 L72.6 262.1 L71.3 262.1 L69.9 262.2 L68.5 262.3 L67.2 262.4 L65.7 262.4 L64.2 262.5 L62.7 262.5 L61.2 262.6 L59.7 262.7 L58.1 262.8 L56.6 262.9 L55.1 263.1 L53.6 263.4 L52.2 263.8 L50.8 264.2 L49.4 264.7 L48.1 265.2 L46.8 265.8 L45.5 266.4 L44.3 267.1 L43.0 267.8 L41.8 268.5 L40.6 269.2 L39.4 270.0 L38.2 270.8 L36.9 271.6 L35.6 272.4 L34.4 273.4 L33.1 274.3 L31.8 275.4 L30.5 276.4 L29.3 277.4 L28.0 278.5 L26.8 279.5 L25.6 280.5 L24.4 281.4 L23.2 282.3 L22.1 283.0 L20.9 283.8 L19.8 284.5 L18.6 285.2 L17.4 285.8 L16.2 286.4 L15.1 287.0 L14.0 287.6 L12.9 288.1 L12.0 288.6 L11.2 289.0 L10.5 289.4 L9.9 289.8Z" fill="#f8b49b" opacity="0.8" transform="translate(0 -0.4)"/>
<path d="M57.9 304.7 L58.6 304.6 L59.2 304.4 L60.0 304.0 L60.9 303.6 L61.9 303.2 L62.9 302.7 L63.9 302.2 L65.0 301.6 L66.0 301.0 L67.0 300.4 L68.0 299.7 L68.9 299.0 L69.7 298.3 L70.5 297.5 L71.2 296.7 L71.9 295.9 L72.5 295.1 L73.2 294.3 L73.7 293.5 L74.3 292.8 L74.9 292.2 L75.4 291.6 L76.0 291.2 L76.5 290.8 L77.2 290.4 L77.8 290.0 L78.5 289.7 L79.2 289.4 L79.9 289.1 L80.6 288.8 L81.4 288.6 L82.1 288.4 L82.9 288.2 L83.7 288.1 L84.5 288.0 L85.3 287.9 L86.2 287.9 L87.0 287.9 L87.9 287.9 L88.9 287.9 L89.8 288.0 L90.8 288.1 L91.8 288.3 L92.8 288.4 L93.8 288.6 L94.8 288.8 L95.9 289.0 L96.8 289.2 L97.7 289.5 L98.6 289.7 L99.5 290.1 L100.5 290.5 L101.5 290.9 L102.5 291.3 L103.5 291.8 L104.6 292.2 L105.8 292.6 L107.0 293.0 L108.2 293.3 L109.5 293.6 L110.6 293.8 L111.8 293.9 L113.0 294.0 L114.1 294.1 L115.3 294.1 L116.5 294.1 L117.7 294.1 L118.9 294.0 L120.1 293.9 L121.2 293.7 L122.4 293.5 L123.5 293.3 L124.6 293.0 L125.7 292.6 L126.8 292.2 L127.8 291.8 L128.8 291.3 L129.8 290.8 L130.8 290.2 L131.8 289.6 L132.7 288.9 L133.6 288.2 L134.5 287.5 L135.4 286.7 L136.3 285.8 L137.2 284.8 L138.0 283.8 L138.8 282.8 L139.5 281.7 L140.2 280.7 L140.9 279.6 L141.6 278.5 L142.2 277.5 L142.8 276.5 L143.4 275.5 L143.9 274.5 L144.4 273.5 L144.9 272.5 L145.3 271.5 L145.7 270.6 L146.1 269.6 L146.4 268.7 L146.7 267.9 L147.0 267.0 L147.2 266.2 L147.5 265.5 L147.7 264.8 L148.0 264.1 L148.3 263.4 L148.6 262.6 L149.0 261.7 L149.3 260.9 L149.6 260.1 L149.9 259.3 L150.3 258.6 L150.5 257.9 L150.8 257.2 L151.1 256.6 L151.3 256.1 L151.4 255.7 L142.6 252.3 L142.4 252.7 L142.2 253.2 L142.0 253.8 L141.8 254.4 L141.5 255.2 L141.2 255.9 L140.9 256.7 L140.6 257.6 L140.3 258.4 L140.0 259.2 L139.7 260.1 L139.4 260.9 L139.1 261.8 L138.8 262.6 L138.6 263.5 L138.3 264.3 L138.1 265.1 L137.8 265.9 L137.6 266.7 L137.3 267.5 L137.1 268.2 L136.8 269.0 L136.5 269.7 L136.1 270.5 L135.7 271.3 L135.2 272.3 L134.7 273.2 L134.1 274.2 L133.6 275.1 L133.0 276.1 L132.5 277.0 L131.9 277.9 L131.3 278.7 L130.7 279.5 L130.2 280.1 L129.6 280.7 L129.0 281.3 L128.4 281.9 L127.8 282.4 L127.1 282.9 L126.5 283.4 L125.8 283.8 L125.1 284.2 L124.4 284.6 L123.7 284.9 L123.0 285.2 L122.2 285.5 L121.5 285.7 L120.7 286.0 L119.9 286.1 L119.0 286.3 L118.1 286.4 L117.2 286.5 L116.3 286.6 L115.3 286.6 L114.4 286.6 L113.4 286.6 L112.4 286.6 L111.5 286.5 L110.5 286.4 L109.7 286.3 L108.9 286.1 L108.0 285.9 L107.0 285.6 L106.0 285.2 L105.0 284.9 L104.0 284.5 L102.9 284.1 L101.7 283.7 L100.6 283.3 L99.4 283.0 L98.2 282.8 L97.1 282.6 L95.9 282.4 L94.8 282.3 L93.7 282.1 L92.5 282.0 L91.4 281.9 L90.2 281.9 L89.1 281.8 L88.0 281.8 L86.8 281.9 L85.7 282.0 L84.7 282.1 L83.6 282.3 L82.6 282.5 L81.6 282.7 L80.6 283.0 L79.7 283.3 L78.7 283.6 L77.8 284.0 L76.9 284.5 L76.0 284.9 L75.2 285.5 L74.3 286.0 L73.5 286.6 L72.6 287.4 L71.8 288.2 L71.1 289.0 L70.5 289.9 L69.9 290.7 L69.3 291.6 L68.8 292.4 L68.3 293.2 L67.8 294.0 L67.2 294.7 L66.7 295.4 L66.1 296.0 L65.5 296.6 L64.7 297.2 L63.9 297.9 L63.0 298.6 L62.1 299.2 L61.2 299.9 L60.3 300.5 L59.5 301.2 L58.7 301.7 L58.0 302.3 L57.4 302.8 L57.1 303.3Z" fill="url(#flg2)"/>
<path d="M57.6 304.2 L58.2 304.0 L58.8 303.7 L59.6 303.3 L60.4 302.8 L61.4 302.3 L62.3 301.8 L63.3 301.2 L64.4 300.6 L65.3 300.0 L66.3 299.4 L67.2 298.8 L68.0 298.1 L68.8 297.4 L69.5 296.7 L70.2 295.9 L70.8 295.1 L71.4 294.3 L72.0 293.5 L72.6 292.7 L73.2 291.9 L73.8 291.2 L74.4 290.6 L75.0 290.0 L75.6 289.5 L76.3 289.1 L77.0 288.7 L77.8 288.3 L78.5 287.9 L79.3 287.6 L80.1 287.3 L80.9 287.1 L81.7 286.8 L82.5 286.6 L83.4 286.5 L84.3 286.3 L85.1 286.2 L86.0 286.1 L87.0 286.1 L87.9 286.1 L88.9 286.2 L89.9 286.2 L91.0 286.3 L92.0 286.5 L93.1 286.6 L94.1 286.8 L95.2 287.0 L96.2 287.2 L97.2 287.4 L98.2 287.6 L99.2 287.9 L100.1 288.3 L101.2 288.6 L102.2 289.0 L103.2 289.5 L104.3 289.9 L105.3 290.3 L106.4 290.7 L107.5 291.0 L108.6 291.3 L109.8 291.5 L110.9 291.7 L112.0 291.8 L113.1 291.9 L114.2 292.0 L115.3 292.0 L116.5 292.0 L117.6 291.9 L118.7 291.9 L119.8 291.7 L120.9 291.6 L121.9 291.4 L123.0 291.1 L124.0 290.8 L124.9 290.5 L125.9 290.1 L126.8 289.7 L127.8 289.3 L128.7 288.8 L129.6 288.3 L130.5 287.7 L131.3 287.1 L132.1 286.4 L133.0 285.7 L133.8 285.0 L134.6 284.2 L135.3 283.3 L136.1 282.4 L136.8 281.4 L137.5 280.4 L138.2 279.4 L138.9 278.3 L139.5 277.3 L140.1 276.3 L140.7 275.3 L141.2 274.3 L141.7 273.4 L142.2 272.5 L142.6 271.5 L143.0 270.6 L143.4 269.7 L143.7 268.8 L144.0 267.9 L144.3 267.1 L144.5 266.3 L144.8 265.5 L145.1 264.7 L145.3 263.9 L145.6 263.2 L145.9 262.4 L146.2 261.6 L146.5 260.8 L146.9 260.0 L147.2 259.2 L147.5 258.4 L147.8 257.6 L148.1 256.9 L148.4 256.3 L148.6 255.7 L148.8 255.2 L149.0 254.8 L145.0 253.2 L144.9 253.6 L144.7 254.1 L144.5 254.7 L144.2 255.4 L143.9 256.1 L143.7 256.9 L143.3 257.7 L143.0 258.5 L142.7 259.3 L142.4 260.2 L142.1 261.0 L141.8 261.8 L141.5 262.6 L141.2 263.4 L141.0 264.3 L140.7 265.1 L140.5 265.9 L140.2 266.7 L140.0 267.5 L139.7 268.3 L139.4 269.2 L139.1 270.0 L138.7 270.8 L138.3 271.6 L137.8 272.5 L137.3 273.4 L136.8 274.4 L136.2 275.4 L135.7 276.4 L135.1 277.4 L134.5 278.3 L133.8 279.2 L133.2 280.1 L132.5 281.0 L131.9 281.7 L131.2 282.4 L130.6 283.1 L129.9 283.7 L129.2 284.2 L128.4 284.8 L127.7 285.3 L126.9 285.8 L126.2 286.2 L125.4 286.6 L124.6 287.0 L123.7 287.3 L122.9 287.6 L122.0 287.9 L121.2 288.1 L120.3 288.3 L119.3 288.5 L118.4 288.6 L117.4 288.7 L116.4 288.7 L115.3 288.8 L114.3 288.8 L113.3 288.7 L112.2 288.7 L111.2 288.6 L110.2 288.5 L109.3 288.3 L108.3 288.1 L107.3 287.8 L106.3 287.5 L105.3 287.1 L104.3 286.7 L103.2 286.3 L102.2 285.9 L101.1 285.5 L100.0 285.2 L98.9 284.9 L97.8 284.6 L96.7 284.4 L95.6 284.3 L94.5 284.1 L93.4 283.9 L92.3 283.8 L91.2 283.7 L90.1 283.6 L89.0 283.6 L88.0 283.6 L86.9 283.6 L85.9 283.7 L84.9 283.8 L83.9 283.9 L82.9 284.1 L82.0 284.3 L81.1 284.6 L80.2 284.8 L79.3 285.2 L78.4 285.5 L77.6 285.9 L76.8 286.3 L75.9 286.8 L75.2 287.3 L74.4 287.9 L73.6 288.5 L72.9 289.2 L72.2 289.9 L71.6 290.7 L71.0 291.6 L70.5 292.4 L69.9 293.2 L69.4 294.0 L68.8 294.8 L68.2 295.5 L67.6 296.3 L67.0 296.9 L66.2 297.5 L65.4 298.2 L64.5 298.8 L63.6 299.5 L62.7 300.2 L61.7 300.8 L60.8 301.4 L59.9 302.0 L59.1 302.5 L58.4 303.0 L57.8 303.4 L57.4 303.8Z" fill="#f8b49b" opacity="0.8" transform="translate(0 -0.4)"/>

<ellipse cx="227" cy="247.100" rx="84" ry="42.900" fill="url(#caps)"/>
<ellipse cx="227" cy="247.100" rx="82" ry="40.800" fill="none" stroke="#ee9468" stroke-width="1.100" opacity="0.8"/>
<ellipse cx="226.200" cy="247.200" rx="79.600" ry="38.600" fill="url(#caps2)"/>
<ellipse cx="225.200" cy="247.250" rx="76.800" ry="36.450" fill="#e3673f"/>
<ellipse cx="225" cy="247" rx="73" ry="32.400" fill="#ec8762"/>
<ellipse cx="225" cy="246.900" rx="71.700" ry="31.100" fill="url(#cyto)"/>

<g fill="#7ba6da"><circle cx="176" cy="225" r="1.4"/><circle cx="188" cy="232" r="1.4"/><circle cx="213" cy="222" r="1.4"/><circle cx="224" cy="226" r="1.4"/><circle cx="259" cy="222" r="1.4"/><circle cx="268" cy="228" r="1.4"/><circle cx="289" cy="240" r="1.4"/><circle cx="283" cy="259" r="1.4"/><circle cx="260" cy="269" r="1.4"/><circle cx="236" cy="272" r="1.4"/><circle cx="224" cy="266" r="1.4"/><circle cx="199" cy="269" r="1.4"/><circle cx="180" cy="268" r="1.4"/><circle cx="165" cy="262" r="1.4"/><circle cx="157" cy="245" r="1.4"/><circle cx="195" cy="272" r="1.4"/><circle cx="275" cy="246" r="1.4"/><circle cx="246" cy="225" r="1.4"/><circle cx="285" cy="232" r="1.4"/><circle cx="291" cy="252" r="1.4"/><circle cx="270" cy="273" r="1.4"/><circle cx="160" cy="235" r="1.4"/></g>
<g fill="#b3a58c" stroke="#cfc5b0" stroke-width="0.6"><circle cx="164.500" cy="251.500" r="2.8"/><circle cx="211" cy="272.500" r="2.8"/><circle cx="272.500" cy="233.500" r="2.5"/></g>
<path d="M176.0 240.0 L176.8 239.2 L177.7 238.4 L178.7 237.7 L179.8 237.0 L180.9 236.3 L182.2 235.6 L183.6 235.0 L185.0 234.5 L186.6 234.0 L188.3 233.6 L190.2 233.2 L192.1 232.9 L194.1 232.6 L196.1 232.4 L198.1 232.2 L200.0 232.0 L201.9 231.9 L203.8 231.8 L205.6 231.7 L207.5 231.7 L209.4 231.7 L211.2 231.7 L213.1 231.8 L215.0 231.8 L216.9 231.8 L218.8 231.9 L220.8 231.9 L222.7 232.0 L224.6 232.1 L226.5 232.2 L228.3 232.2 L230.0 232.3 L231.7 232.3 L233.3 232.3 L234.9 232.3 L236.4 232.3 L237.9 232.3 L239.4 232.4 L240.7 232.4 L242.0 232.5 L243.2 232.7 L244.3 232.9 L245.3 233.2 L246.2 233.5 L247.2 233.7 L248.1 234.0 L249.0 234.1 L250.0 234.2 L251.0 234.1 L252.0 233.9 L253.0 233.6 L254.0 233.3 L255.0 233.0 L256.0 232.7 L257.0 232.6 L258.0 232.5 L259.0 232.5 L260.0 232.7 L261.1 232.8 L262.1 233.1 L263.1 233.3 L264.1 233.7 L265.1 234.1 L266.0 234.5 L266.9 235.0 L267.7 235.6 L268.6 236.2 L269.4 236.9 L270.1 237.7 L270.8 238.4 L271.4 239.2 L272.0 240.0 L272.5 240.8 L273.0 241.6 L273.4 242.5 L273.7 243.3 L274.0 244.2 L274.2 245.1 L274.3 246.1 L274.3 247.0 L274.2 248.0 L274.0 249.0 L273.7 250.0 L273.4 251.1 L272.9 252.1 L272.4 253.2 L271.7 254.1 L271.0 255.0 L270.2 255.8 L269.2 256.6 L268.2 257.4 L267.0 258.2 L265.8 258.8 L264.6 259.5 L263.3 260.0 L262.0 260.5 L260.6 260.9 L259.2 261.2 L257.7 261.4 L256.2 261.6 L254.6 261.7 L253.1 261.8 L251.5 261.9 L250.0 262.0 L248.5 262.1 L247.0 262.1 L245.5 262.1 L244.0 262.1 L242.5 262.1 L241.0 262.1 L239.5 262.0 L238.0 262.0 L236.5 262.0 L234.9 261.9 L233.3 261.9 L231.7 261.8 L230.1 261.8 L228.6 261.7 L227.3 261.6 L226.0 261.5 L224.9 261.3 L223.9 261.1 L223.1 260.9 L222.3 260.6 L221.6 260.4 L220.8 260.2 L219.9 260.0 L219.0 260.0 L218.0 260.1 L217.0 260.3 L215.9 260.6 L214.8 260.9 L213.7 261.2 L212.5 261.6 L211.3 261.8 L210.0 262.0 L208.6 262.1 L207.2 262.2 L205.7 262.3 L204.2 262.3 L202.6 262.3 L201.1 262.2 L199.5 262.1 L198.0 262.0 L196.5 261.8 L194.9 261.6 L193.4 261.4 L191.8 261.1 L190.3 260.8 L188.8 260.4 L187.4 260.0 L186.0 259.5 L184.7 259.0 L183.4 258.4 L182.2 257.7 L181.0 257.0 L179.9 256.3 L178.9 255.6 L177.9 254.8 L177.0 254.0 L176.2 253.2 L175.4 252.4 L174.6 251.5 L174.0 250.6 L173.4 249.7 L173.0 248.8 L172.6 247.9 L172.5 247.0 L172.5 246.1 L172.7 245.2 L173.0 244.3 L173.4 243.4 L173.9 242.5 L174.6 241.6 L175.2 240.8Z" fill="#f7bccd" stroke="#f7bccd" stroke-width="2.400" stroke-linejoin="round"/>
<g fill="#f193ae"><path d="M176.0 240.0 L176.8 239.2 L177.7 238.4 L178.7 237.7 L179.8 237.0 L180.9 236.3 L182.2 235.6 L183.6 235.0 L185.0 234.5 L186.6 234.0 L188.3 233.6 L190.2 233.2 L192.1 232.9 L194.1 232.6 L196.1 232.4 L198.1 232.2 L200.0 232.0 L201.9 231.9 L203.8 231.8 L205.6 231.7 L207.5 231.7 L209.4 231.7 L211.2 231.7 L213.1 231.8 L215.0 231.8 L216.9 231.8 L218.8 231.9 L220.8 231.9 L222.7 232.0 L224.6 232.1 L226.5 232.2 L228.3 232.2 L230.0 232.3 L231.7 232.3 L233.3 232.3 L234.9 232.3 L236.4 232.3 L237.9 232.3 L239.4 232.4 L240.7 232.4 L242.0 232.5 L243.2 232.7 L244.3 232.9 L245.3 233.2 L246.2 233.5 L247.2 233.7 L248.1 234.0 L249.0 234.1 L250.0 234.2 L251.0 234.1 L252.0 233.9 L253.0 233.6 L254.0 233.3 L255.0 233.0 L256.0 232.7 L257.0 232.6 L258.0 232.5 L259.0 232.5 L260.0 232.7 L261.1 232.8 L262.1 233.1 L263.1 233.3 L264.1 233.7 L265.1 234.1 L266.0 234.5 L266.9 235.0 L267.7 235.6 L268.6 236.2 L269.4 236.9 L270.1 237.7 L270.8 238.4 L271.4 239.2 L272.0 240.0 L272.5 240.8 L273.0 241.6 L273.4 242.5 L273.7 243.3 L274.0 244.2 L274.2 245.1 L274.3 246.1 L274.3 247.0 L274.2 248.0 L274.0 249.0 L273.7 250.0 L273.4 251.1 L272.9 252.1 L272.4 253.2 L271.7 254.1 L271.0 255.0 L270.2 255.8 L269.2 256.6 L268.2 257.4 L267.0 258.2 L265.8 258.8 L264.6 259.5 L263.3 260.0 L262.0 260.5 L260.6 260.9 L259.2 261.2 L257.7 261.4 L256.2 261.6 L254.6 261.7 L253.1 261.8 L251.5 261.9 L250.0 262.0 L248.5 262.1 L247.0 262.1 L245.5 262.1 L244.0 262.1 L242.5 262.1 L241.0 262.1 L239.5 262.0 L238.0 262.0 L236.5 262.0 L234.9 261.9 L233.3 261.9 L231.7 261.8 L230.1 261.8 L228.6 261.7 L227.3 261.6 L226.0 261.5 L224.9 261.3 L223.9 261.1 L223.1 260.9 L222.3 260.6 L221.6 260.4 L220.8 260.2 L219.9 260.0 L219.0 260.0 L218.0 260.1 L217.0 260.3 L215.9 260.6 L214.8 260.9 L213.7 261.2 L212.5 261.6 L211.3 261.8 L210.0 262.0 L208.6 262.1 L207.2 262.2 L205.7 262.3 L204.2 262.3 L202.6 262.3 L201.1 262.2 L199.5 262.1 L198.0 262.0 L196.5 261.8 L194.9 261.6 L193.4 261.4 L191.8 261.1 L190.3 260.8 L188.8 260.4 L187.4 260.0 L186.0 259.5 L184.7 259.0 L183.4 258.4 L182.2 257.7 L181.0 257.0 L179.9 256.3 L178.9 255.6 L177.9 254.8 L177.0 254.0 L176.2 253.2 L175.4 252.4 L174.6 251.5 L174.0 250.6 L173.4 249.7 L173.0 248.8 L172.6 247.9 L172.5 247.0 L172.5 246.1 L172.7 245.2 L173.0 244.3 L173.4 243.4 L173.9 242.5 L174.6 241.6 L175.2 240.8Z"/></g>
<clipPath id="nucclip"><path d="M176.0 240.0 L176.8 239.2 L177.7 238.4 L178.7 237.7 L179.8 237.0 L180.9 236.3 L182.2 235.6 L183.6 235.0 L185.0 234.5 L186.6 234.0 L188.3 233.6 L190.2 233.2 L192.1 232.9 L194.1 232.6 L196.1 232.4 L198.1 232.2 L200.0 232.0 L201.9 231.9 L203.8 231.8 L205.6 231.7 L207.5 231.7 L209.4 231.7 L211.2 231.7 L213.1 231.8 L215.0 231.8 L216.9 231.8 L218.8 231.9 L220.8 231.9 L222.7 232.0 L224.6 232.1 L226.5 232.2 L228.3 232.2 L230.0 232.3 L231.7 232.3 L233.3 232.3 L234.9 232.3 L236.4 232.3 L237.9 232.3 L239.4 232.4 L240.7 232.4 L242.0 232.5 L243.2 232.7 L244.3 232.9 L245.3 233.2 L246.2 233.5 L247.2 233.7 L248.1 234.0 L249.0 234.1 L250.0 234.2 L251.0 234.1 L252.0 233.9 L253.0 233.6 L254.0 233.3 L255.0 233.0 L256.0 232.7 L257.0 232.6 L258.0 232.5 L259.0 232.5 L260.0 232.7 L261.1 232.8 L262.1 233.1 L263.1 233.3 L264.1 233.7 L265.1 234.1 L266.0 234.5 L266.9 235.0 L267.7 235.6 L268.6 236.2 L269.4 236.9 L270.1 237.7 L270.8 238.4 L271.4 239.2 L272.0 240.0 L272.5 240.8 L273.0 241.6 L273.4 242.5 L273.7 243.3 L274.0 244.2 L274.2 245.1 L274.3 246.1 L274.3 247.0 L274.2 248.0 L274.0 249.0 L273.7 250.0 L273.4 251.1 L272.9 252.1 L272.4 253.2 L271.7 254.1 L271.0 255.0 L270.2 255.8 L269.2 256.6 L268.2 257.4 L267.0 258.2 L265.8 258.8 L264.6 259.5 L263.3 260.0 L262.0 260.5 L260.6 260.9 L259.2 261.2 L257.7 261.4 L256.2 261.6 L254.6 261.7 L253.1 261.8 L251.5 261.9 L250.0 262.0 L248.5 262.1 L247.0 262.1 L245.5 262.1 L244.0 262.1 L242.5 262.1 L241.0 262.1 L239.5 262.0 L238.0 262.0 L236.5 262.0 L234.9 261.9 L233.3 261.9 L231.7 261.8 L230.1 261.8 L228.6 261.7 L227.3 261.6 L226.0 261.5 L224.9 261.3 L223.9 261.1 L223.1 260.9 L222.3 260.6 L221.6 260.4 L220.8 260.2 L219.9 260.0 L219.0 260.0 L218.0 260.1 L217.0 260.3 L215.9 260.6 L214.8 260.9 L213.7 261.2 L212.5 261.6 L211.3 261.8 L210.0 262.0 L208.6 262.1 L207.2 262.2 L205.7 262.3 L204.2 262.3 L202.6 262.3 L201.1 262.2 L199.5 262.1 L198.0 262.0 L196.5 261.8 L194.9 261.6 L193.4 261.4 L191.8 261.1 L190.3 260.8 L188.8 260.4 L187.4 260.0 L186.0 259.5 L184.7 259.0 L183.4 258.4 L182.2 257.7 L181.0 257.0 L179.9 256.3 L178.9 255.6 L177.9 254.8 L177.0 254.0 L176.2 253.2 L175.4 252.4 L174.6 251.5 L174.0 250.6 L173.4 249.7 L173.0 248.8 L172.6 247.9 L172.5 247.0 L172.5 246.1 L172.7 245.2 L173.0 244.3 L173.4 243.4 L173.9 242.5 L174.6 241.6 L175.2 240.8Z"/></clipPath>
<g clip-path="url(#nucclip)">
<g fill="#f7b4c6" fill-opacity="0.45" stroke="#dc3f72" stroke-width="1"><circle cx="218.8" cy="248.7" r="3.5"/><circle cx="220.1" cy="247.2" r="2.9"/><circle cx="192.3" cy="247.3" r="2.9"/><circle cx="252.5" cy="235.6" r="2.3"/><circle cx="183.0" cy="255.7" r="3.0"/><circle cx="178.1" cy="260.5" r="3.5"/><circle cx="238.7" cy="250.2" r="2.1"/><circle cx="175.5" cy="247.8" r="1.9"/><circle cx="192.8" cy="239.8" r="1.9"/><circle cx="219.9" cy="245.3" r="3.3"/><circle cx="225.4" cy="250.9" r="2.7"/><circle cx="239.6" cy="245.8" r="2.3"/><circle cx="272.8" cy="260.9" r="3.3"/><circle cx="244.1" cy="241.8" r="2.2"/><circle cx="202.6" cy="235.0" r="3.2"/><circle cx="213.6" cy="256.7" r="2.5"/><circle cx="268.8" cy="256.7" r="1.8"/><circle cx="194.8" cy="258.5" r="2.6"/><circle cx="271.1" cy="244.1" r="1.9"/><circle cx="236.3" cy="254.8" r="2.3"/><circle cx="182.6" cy="242.3" r="3.5"/><circle cx="249.0" cy="236.3" r="2.2"/><circle cx="184.0" cy="234.7" r="3.2"/><circle cx="191.6" cy="248.7" r="2.6"/><circle cx="192.9" cy="253.5" r="2.0"/><circle cx="237.7" cy="236.3" r="2.6"/><circle cx="195.1" cy="240.6" r="3.5"/><circle cx="253.5" cy="241.5" r="3.4"/><circle cx="194.9" cy="244.0" r="3.3"/><circle cx="237.5" cy="235.8" r="3.6"/><circle cx="195.1" cy="240.2" r="3.2"/><circle cx="206.6" cy="241.3" r="1.9"/><circle cx="182.9" cy="249.3" r="2.2"/><circle cx="233.5" cy="243.4" r="2.6"/><circle cx="269.0" cy="246.5" r="2.8"/><circle cx="259.8" cy="238.1" r="2.1"/><circle cx="263.9" cy="255.9" r="2.2"/><circle cx="192.8" cy="253.7" r="3.5"/><circle cx="193.5" cy="259.6" r="3.4"/><circle cx="233.7" cy="244.8" r="2.0"/><circle cx="177.8" cy="260.0" r="2.2"/><circle cx="243.8" cy="240.2" r="3.3"/><circle cx="233.1" cy="241.2" r="2.1"/><circle cx="245.3" cy="234.9" r="2.2"/><circle cx="229.4" cy="256.9" r="2.9"/><circle cx="201.7" cy="258.7" r="2.2"/><circle cx="175.6" cy="240.5" r="2.6"/><circle cx="180.0" cy="237.9" r="2.5"/><circle cx="230.6" cy="236.7" r="2.5"/><circle cx="262.2" cy="260.5" r="3.0"/><circle cx="242.4" cy="249.4" r="2.1"/><circle cx="177.5" cy="233.5" r="3.4"/><circle cx="243.4" cy="260.0" r="1.8"/><circle cx="237.0" cy="246.5" r="3.1"/><circle cx="205.6" cy="261.0" r="1.9"/><circle cx="228.1" cy="253.6" r="3.4"/><circle cx="247.0" cy="252.7" r="3.2"/><circle cx="264.6" cy="242.9" r="3.0"/><circle cx="263.2" cy="257.4" r="2.6"/><circle cx="252.3" cy="257.2" r="2.8"/><circle cx="235.9" cy="243.7" r="2.8"/><circle cx="234.3" cy="235.2" r="3.0"/><circle cx="272.3" cy="257.6" r="3.1"/><circle cx="212.5" cy="253.6" r="2.8"/><circle cx="217.6" cy="256.5" r="2.0"/><circle cx="248.3" cy="233.8" r="2.9"/><circle cx="221.6" cy="239.4" r="3.1"/><circle cx="223.2" cy="250.2" r="3.5"/><circle cx="199.3" cy="233.3" r="2.3"/><circle cx="241.1" cy="238.7" r="2.1"/><circle cx="263.7" cy="251.5" r="2.6"/><circle cx="262.3" cy="242.2" r="3.0"/><circle cx="193.7" cy="245.1" r="3.3"/><circle cx="264.5" cy="257.6" r="2.5"/><circle cx="231.7" cy="241.9" r="2.0"/><circle cx="223.2" cy="256.4" r="3.3"/><circle cx="244.4" cy="259.6" r="2.3"/><circle cx="190.7" cy="245.6" r="2.3"/><circle cx="195.2" cy="244.6" r="2.9"/><circle cx="222.9" cy="241.8" r="3.3"/><circle cx="271.2" cy="245.7" r="1.9"/><circle cx="177.1" cy="257.4" r="1.9"/><circle cx="244.2" cy="249.0" r="2.4"/><circle cx="252.4" cy="233.5" r="2.0"/><circle cx="219.0" cy="233.7" r="3.3"/><circle cx="197.5" cy="236.9" r="1.9"/><circle cx="236.3" cy="245.5" r="2.9"/><circle cx="238.8" cy="255.6" r="3.5"/><circle cx="241.8" cy="238.6" r="2.7"/><circle cx="191.7" cy="233.3" r="2.6"/></g>
<g fill="#fdeaf0" opacity="0.92"><ellipse cx="244.3" cy="238.7" rx="1.3" ry="1.2"/><ellipse cx="242.6" cy="247.5" rx="1.6" ry="1.5"/><ellipse cx="213.2" cy="254.6" rx="1.9" ry="1.0"/><ellipse cx="265.5" cy="252.8" rx="1.1" ry="1.3"/><ellipse cx="235.7" cy="257.7" rx="1.4" ry="1.4"/><ellipse cx="260.3" cy="254.7" rx="1.9" ry="1.3"/><ellipse cx="238.2" cy="239.3" rx="1.7" ry="1.6"/><ellipse cx="237.2" cy="252.7" rx="1.2" ry="1.6"/><ellipse cx="270.1" cy="259.4" rx="1.5" ry="1.5"/><ellipse cx="206.1" cy="257.7" rx="1.9" ry="1.2"/><ellipse cx="183.0" cy="245.5" rx="1.6" ry="1.5"/><ellipse cx="222.3" cy="234.7" rx="1.8" ry="1.0"/><ellipse cx="252.6" cy="238.5" rx="1.3" ry="1.5"/><ellipse cx="188.6" cy="237.9" rx="1.5" ry="1.5"/><ellipse cx="256.5" cy="251.9" rx="1.9" ry="1.3"/><ellipse cx="267.1" cy="236.2" rx="1.2" ry="1.3"/><ellipse cx="203.1" cy="252.9" rx="1.6" ry="1.3"/><ellipse cx="256.8" cy="248.6" rx="1.3" ry="1.2"/><ellipse cx="257.0" cy="257.4" rx="1.2" ry="1.6"/><ellipse cx="268.9" cy="247.6" rx="1.6" ry="1.1"/><ellipse cx="227.0" cy="247.1" rx="1.6" ry="0.9"/><ellipse cx="269.0" cy="247.4" rx="1.4" ry="1.5"/><ellipse cx="229.6" cy="246.8" rx="1.7" ry="1.0"/><ellipse cx="227.3" cy="244.8" rx="2.0" ry="1.6"/><ellipse cx="201.1" cy="246.3" rx="1.1" ry="1.2"/><ellipse cx="254.1" cy="257.4" rx="1.5" ry="1.2"/><ellipse cx="193.6" cy="250.1" rx="1.9" ry="1.0"/><ellipse cx="250.6" cy="234.6" rx="1.2" ry="1.1"/><ellipse cx="241.6" cy="242.4" rx="1.4" ry="1.4"/><ellipse cx="185.2" cy="253.0" rx="1.1" ry="1.3"/><ellipse cx="199.3" cy="239.1" rx="1.5" ry="1.2"/><ellipse cx="211.4" cy="244.7" rx="1.5" ry="1.0"/><ellipse cx="194.8" cy="250.4" rx="1.6" ry="1.3"/><ellipse cx="257.6" cy="249.9" rx="1.9" ry="1.1"/><ellipse cx="246.9" cy="255.1" rx="1.9" ry="1.2"/><ellipse cx="205.6" cy="258.0" rx="1.2" ry="1.7"/><ellipse cx="261.1" cy="237.5" rx="1.2" ry="1.5"/><ellipse cx="200.2" cy="236.5" rx="1.8" ry="1.2"/><ellipse cx="251.6" cy="237.3" rx="1.4" ry="1.4"/><ellipse cx="176.7" cy="239.2" rx="1.7" ry="1.6"/><ellipse cx="268.9" cy="237.0" rx="1.5" ry="1.5"/><ellipse cx="223.8" cy="251.8" rx="1.2" ry="1.0"/><ellipse cx="185.3" cy="235.0" rx="1.6" ry="1.3"/><ellipse cx="230.2" cy="237.8" rx="1.2" ry="1.1"/><ellipse cx="256.5" cy="259.7" rx="1.9" ry="1.0"/><ellipse cx="181.0" cy="258.7" rx="1.5" ry="1.5"/><ellipse cx="206.7" cy="246.1" rx="1.5" ry="1.2"/><ellipse cx="233.3" cy="234.3" rx="1.7" ry="1.6"/><ellipse cx="192.6" cy="245.8" rx="1.7" ry="1.2"/><ellipse cx="193.9" cy="238.3" rx="1.5" ry="0.9"/><ellipse cx="261.6" cy="254.8" rx="1.7" ry="1.6"/><ellipse cx="236.1" cy="244.5" rx="1.6" ry="1.3"/><ellipse cx="270.3" cy="254.9" rx="1.3" ry="1.6"/><ellipse cx="247.2" cy="254.2" rx="1.8" ry="1.2"/><ellipse cx="262.0" cy="256.9" rx="1.7" ry="1.5"/><ellipse cx="249.2" cy="244.5" rx="1.7" ry="1.0"/><ellipse cx="208.1" cy="246.2" rx="1.0" ry="1.2"/><ellipse cx="237.0" cy="250.2" rx="1.2" ry="1.7"/><ellipse cx="239.6" cy="242.8" rx="1.7" ry="1.4"/><ellipse cx="226.7" cy="244.1" rx="2.0" ry="1.4"/><ellipse cx="243.0" cy="253.8" rx="2.0" ry="0.9"/><ellipse cx="234.7" cy="253.2" rx="1.3" ry="1.2"/><ellipse cx="179.9" cy="239.1" rx="1.4" ry="1.0"/><ellipse cx="199.3" cy="257.5" rx="1.6" ry="1.3"/><ellipse cx="268.8" cy="248.8" rx="2.0" ry="1.4"/><ellipse cx="253.5" cy="236.0" rx="1.6" ry="1.5"/><ellipse cx="179.4" cy="258.2" rx="1.2" ry="1.3"/><ellipse cx="191.4" cy="246.9" rx="1.6" ry="0.9"/><ellipse cx="266.7" cy="244.9" rx="1.5" ry="1.4"/><ellipse cx="210.5" cy="241.4" rx="1.7" ry="1.3"/><ellipse cx="202.5" cy="252.6" rx="1.3" ry="0.9"/><ellipse cx="198.8" cy="235.1" rx="1.2" ry="1.5"/><ellipse cx="212.8" cy="257.3" rx="1.7" ry="0.9"/><ellipse cx="270.9" cy="258.6" rx="1.1" ry="1.6"/><ellipse cx="216.7" cy="246.4" rx="2.0" ry="1.1"/><ellipse cx="225.8" cy="258.4" rx="1.7" ry="1.3"/><ellipse cx="269.9" cy="255.2" rx="1.6" ry="1.0"/><ellipse cx="235.6" cy="245.8" rx="1.2" ry="0.9"/><ellipse cx="226.2" cy="237.2" rx="1.4" ry="1.4"/><ellipse cx="219.2" cy="240.8" rx="1.6" ry="1.2"/><ellipse cx="250.5" cy="247.8" rx="2.0" ry="1.7"/><ellipse cx="246.2" cy="240.2" rx="1.1" ry="1.6"/><ellipse cx="251.1" cy="250.2" rx="1.4" ry="1.1"/><ellipse cx="241.4" cy="248.7" rx="1.6" ry="1.4"/><ellipse cx="248.1" cy="238.9" rx="1.2" ry="1.7"/><ellipse cx="263.8" cy="256.8" rx="1.0" ry="0.9"/><ellipse cx="201.3" cy="245.1" rx="1.6" ry="1.0"/><ellipse cx="227.5" cy="235.9" rx="1.1" ry="1.4"/><ellipse cx="228.4" cy="250.4" rx="1.4" ry="1.3"/><ellipse cx="195.4" cy="242.9" rx="1.7" ry="1.6"/><ellipse cx="182.2" cy="237.1" rx="1.8" ry="1.4"/><ellipse cx="249.6" cy="239.5" rx="1.4" ry="1.1"/><ellipse cx="253.6" cy="243.6" rx="1.7" ry="1.7"/><ellipse cx="206.6" cy="248.3" rx="1.7" ry="1.6"/><ellipse cx="216.5" cy="243.6" rx="1.1" ry="1.6"/><ellipse cx="182.6" cy="236.2" rx="1.6" ry="1.3"/><ellipse cx="241.5" cy="241.8" rx="1.8" ry="1.0"/><ellipse cx="195.7" cy="251.2" rx="1.1" ry="1.1"/><ellipse cx="245.3" cy="252.0" rx="1.3" ry="1.0"/><ellipse cx="209.7" cy="252.9" rx="1.4" ry="1.0"/><ellipse cx="243.8" cy="248.8" rx="1.9" ry="1.7"/><ellipse cx="263.6" cy="245.4" rx="1.8" ry="1.1"/><ellipse cx="205.8" cy="244.4" rx="1.9" ry="1.6"/><ellipse cx="199.1" cy="243.4" rx="1.4" ry="1.2"/><ellipse cx="213.4" cy="244.1" rx="1.2" ry="1.4"/><ellipse cx="252.3" cy="248.1" rx="1.8" ry="1.4"/><ellipse cx="192.1" cy="253.7" rx="1.9" ry="1.1"/><ellipse cx="177.2" cy="247.4" rx="1.5" ry="1.4"/><ellipse cx="268.7" cy="250.9" rx="1.8" ry="1.0"/><ellipse cx="228.0" cy="254.5" rx="1.1" ry="1.0"/><ellipse cx="246.5" cy="257.4" rx="1.1" ry="1.4"/><ellipse cx="189.0" cy="253.4" rx="1.6" ry="1.1"/><ellipse cx="196.4" cy="253.9" rx="1.5" ry="1.5"/><ellipse cx="213.3" cy="242.8" rx="2.0" ry="1.4"/><ellipse cx="222.9" cy="248.0" rx="1.7" ry="1.5"/><ellipse cx="263.8" cy="244.7" rx="1.8" ry="1.4"/><ellipse cx="257.8" cy="255.0" rx="1.8" ry="1.6"/><ellipse cx="267.9" cy="250.6" rx="1.5" ry="1.5"/><ellipse cx="252.8" cy="245.0" rx="1.4" ry="1.0"/><ellipse cx="246.9" cy="259.8" rx="1.4" ry="1.0"/></g>
</g>
</g>
<g id="euk">
<g fill="#86bdf3" stroke="#5fa4ee" stroke-width="0.5">
<path d="M557 169.500 C555.500 163 556 157 559 155 C561.500 155 562.500 160 562 169.500 Z"/>
<path d="M606 190 C608.500 187 609.500 183.500 610.500 181 C613 181 613.500 185 610 192.500 Z"/>
<path d="M474 206 C468 203.500 464 201.500 463 199 C464.500 196.500 469 198 478 201.500 Z"/>
<path d="M459 249 C452 249.200 444 248.500 442.500 246.800 C443.500 244.500 452 244.800 460 245.500 Z"/>
<path d="M464 296 C460 297 456.500 296.500 455.500 294.500 C456 292 460 291 464.500 291 Z"/>
<path d="M488 331 C486.500 334.500 488 339 492 339.500 C494.500 338 493.500 334.500 491.500 331.500 Z"/>
</g>
<path d="M566.0 169.3 L564.4 169.0 L563.0 168.7 L561.5 168.5 L560.2 168.4 L558.8 168.3 L557.5 168.3 L556.2 168.3 L554.8 168.3 L553.4 168.3 L552.0 168.3 L550.6 168.3 L549.1 168.3 L547.7 168.3 L546.3 168.3 L544.8 168.3 L543.3 168.4 L541.8 168.5 L540.2 168.6 L538.5 168.8 L536.7 169.0 L534.8 169.2 L532.7 169.5 L530.6 169.8 L528.4 170.1 L526.1 170.4 L523.9 170.8 L521.6 171.3 L519.3 171.8 L517.1 172.3 L515.0 173.0 L512.9 173.7 L510.8 174.5 L508.8 175.4 L506.7 176.3 L504.7 177.3 L502.7 178.4 L500.7 179.4 L498.8 180.6 L496.9 181.8 L495.0 183.0 L493.2 184.3 L491.3 185.6 L489.5 187.1 L487.7 188.5 L486.0 190.1 L484.2 191.6 L482.6 193.2 L481.0 194.8 L479.5 196.4 L478.0 198.0 L476.6 199.6 L475.3 201.3 L474.0 202.9 L472.8 204.6 L471.7 206.3 L470.6 208.0 L469.6 209.8 L468.6 211.5 L467.6 213.3 L466.7 215.0 L465.8 216.8 L465.0 218.6 L464.2 220.4 L463.5 222.2 L462.8 224.0 L462.2 225.8 L461.6 227.6 L461.0 229.4 L460.5 231.2 L460.0 233.0 L459.5 234.7 L459.1 236.4 L458.7 238.1 L458.4 239.7 L458.1 241.4 L457.8 243.0 L457.5 244.7 L457.3 246.4 L457.1 248.2 L457.0 250.0 L456.9 251.9 L456.8 253.9 L456.8 255.9 L456.8 257.9 L456.8 260.0 L456.9 262.1 L457.0 264.1 L457.2 266.1 L457.3 268.1 L457.5 270.0 L457.7 271.8 L458.0 273.6 L458.3 275.4 L458.6 277.2 L458.9 278.9 L459.3 280.6 L459.7 282.2 L460.1 283.8 L460.5 285.4 L461.0 287.0 L461.5 288.5 L462.0 289.9 L462.5 291.3 L463.0 292.7 L463.5 294.0 L464.1 295.3 L464.8 296.7 L465.4 298.1 L466.2 299.5 L467.0 301.0 L467.9 302.6 L468.8 304.2 L469.7 305.9 L470.8 307.6 L471.8 309.3 L472.9 311.1 L474.1 312.8 L475.3 314.6 L476.6 316.3 L478.0 318.0 L479.5 319.7 L481.0 321.5 L482.7 323.4 L484.4 325.2 L486.1 327.0 L487.9 328.8 L489.7 330.5 L491.5 332.1 L493.3 333.6 L495.0 335.0 L496.7 336.2 L498.4 337.3 L500.0 338.3 L501.7 339.2 L503.4 340.0 L505.1 340.8 L506.7 341.5 L508.4 342.2 L510.0 342.9 L511.7 343.5 L513.3 344.1 L515.0 344.7 L516.6 345.2 L518.2 345.7 L519.8 346.2 L521.4 346.6 L523.0 347.0 L524.6 347.3 L526.3 347.7 L528.0 348.0 L529.7 348.3 L531.5 348.6 L533.2 348.9 L535.0 349.2 L536.8 349.4 L538.6 349.6 L540.4 349.8 L542.2 349.9 L544.1 350.0 L546.0 350.0 L547.9 350.0 L549.9 350.0 L551.9 349.9 L554.0 349.8 L556.0 349.6 L558.0 349.4 L560.1 349.2 L562.1 348.9 L564.1 348.6 L566.0 348.2 L567.9 347.8 L569.8 347.3 L571.6 346.8 L573.4 346.2 L575.2 345.6 L577.0 344.9 L578.8 344.2 L580.6 343.5 L582.3 342.8 L584.0 342.0 L585.7 341.2 L587.4 340.3 L589.1 339.4 L590.8 338.5 L592.5 337.6 L594.1 336.6 L595.7 335.6 L597.2 334.5 L598.7 333.5 L600.0 332.5 L601.3 331.5 L602.4 330.4 L603.5 329.2 L604.6 328.1 L605.5 327.0 L606.5 325.8 L607.4 324.7 L608.3 323.6 L609.1 322.5 L610.0 321.5 L610.8 320.5 L611.6 319.6 L612.4 318.8 L613.1 317.9 L613.8 317.1 L614.5 316.3 L615.2 315.4 L615.9 314.5 L616.7 313.6 L617.5 312.5 L618.4 311.3 L619.3 310.1 L620.3 308.8 L621.3 307.4 L622.3 306.0 L623.4 304.6 L624.3 303.3 L625.3 301.9 L626.2 300.7 L627.0 299.5 L627.8 298.4 L628.5 297.4 L629.1 296.5 L629.8 295.6 L630.4 294.7 L631.0 293.8 L631.5 292.9 L632.0 292.0 L632.5 291.0 L633.0 290.0 L633.5 288.9 L633.9 287.7 L634.3 286.5 L634.7 285.3 L635.0 284.0 L635.3 282.8 L635.6 281.5 L635.9 280.3 L636.1 279.1 L636.3 278.0 L636.5 276.9 L636.6 275.9 L636.7 274.9 L636.7 273.9 L636.8 272.9 L636.8 271.9 L636.7 270.9 L636.7 270.0 L636.6 269.0 L636.5 268.0 L636.4 267.0 L636.3 266.0 L636.2 265.1 L636.0 264.1 L635.8 263.1 L635.6 262.1 L635.3 261.1 L635.0 260.1 L634.5 259.1 L634.0 258.0 L633.4 256.9 L632.6 255.8 L631.8 254.7 L630.9 253.6 L630.0 252.5 L629.0 251.3 L628.0 250.1 L627.0 248.8 L626.0 247.5 L625.0 246.0 L624.0 244.5 L623.0 242.9 L621.9 241.4 L620.8 239.7 L619.7 238.0 L618.6 236.2 L617.6 234.3 L616.6 232.3 L615.8 230.2 L615.0 228.0 L614.4 225.5 L614.0 222.8 L613.6 219.9 L613.4 216.9 L613.2 213.8 L613.0 210.8 L612.7 207.8 L612.3 205.0 L611.7 202.3 L611.0 200.0 L610.1 197.9 L609.0 196.0 L607.8 194.2 L606.5 192.6 L605.1 191.0 L603.7 189.6 L602.3 188.2 L600.8 187.0 L599.4 185.7 L598.0 184.5 L596.7 183.4 L595.3 182.3 L594.0 181.4 L592.7 180.5 L591.3 179.7 L589.9 178.9 L588.5 178.2 L587.1 177.5 L585.6 176.7 L584.0 176.0 L582.3 175.2 L580.6 174.5 L578.8 173.7 L576.9 172.9 L575.0 172.2 L573.1 171.5 L571.2 170.8 L569.4 170.2 L567.7 169.7Z" fill="url(#sph)"/>
<path d="M566.0 169.3 L564.4 169.0 L563.0 168.7 L561.5 168.5 L560.2 168.4 L558.8 168.3 L557.5 168.3 L556.2 168.3 L554.8 168.3 L553.4 168.3 L552.0 168.3 L550.6 168.3 L549.1 168.3 L547.7 168.3 L546.3 168.3 L544.8 168.3 L543.3 168.4 L541.8 168.5 L540.2 168.6 L538.5 168.8 L536.7 169.0 L534.8 169.2 L532.7 169.5 L530.6 169.8 L528.4 170.1 L526.1 170.4 L523.9 170.8 L521.6 171.3 L519.3 171.8 L517.1 172.3 L515.0 173.0 L512.9 173.7 L510.8 174.5 L508.8 175.4 L506.7 176.3 L504.7 177.3 L502.7 178.4 L500.7 179.4 L498.8 180.6 L496.9 181.8 L495.0 183.0 L493.2 184.3 L491.3 185.6 L489.5 187.1 L487.7 188.5 L486.0 190.1 L484.2 191.6 L482.6 193.2 L481.0 194.8 L479.5 196.4 L478.0 198.0 L476.6 199.6 L475.3 201.3 L474.0 202.9 L472.8 204.6 L471.7 206.3 L470.6 208.0 L469.6 209.8 L468.6 211.5 L467.6 213.3 L466.7 215.0 L465.8 216.8 L465.0 218.6 L464.2 220.4 L463.5 222.2 L462.8 224.0 L462.2 225.8 L461.6 227.6 L461.0 229.4 L460.5 231.2 L460.0 233.0 L459.5 234.7 L459.1 236.4 L458.7 238.1 L458.4 239.7 L458.1 241.4 L457.8 243.0 L457.5 244.7 L457.3 246.4 L457.1 248.2 L457.0 250.0 L456.9 251.9 L456.8 253.9 L456.8 255.9 L456.8 257.9 L456.8 260.0 L456.9 262.1 L457.0 264.1 L457.2 266.1 L457.3 268.1 L457.5 270.0 L457.7 271.8 L458.0 273.6 L458.3 275.4 L458.6 277.2 L458.9 278.9 L459.3 280.6 L459.7 282.2 L460.1 283.8 L460.5 285.4 L461.0 287.0 L461.5 288.5 L462.0 289.9 L462.5 291.3 L463.0 292.7 L463.5 294.0 L464.1 295.3 L464.8 296.7 L465.4 298.1 L466.2 299.5 L467.0 301.0 L467.9 302.6 L468.8 304.2 L469.7 305.9 L470.8 307.6 L471.8 309.3 L472.9 311.1 L474.1 312.8 L475.3 314.6 L476.6 316.3 L478.0 318.0 L479.5 319.7 L481.0 321.5 L482.7 323.4 L484.4 325.2 L486.1 327.0 L487.9 328.8 L489.7 330.5 L491.5 332.1 L493.3 333.6 L495.0 335.0 L496.7 336.2 L498.4 337.3 L500.0 338.3 L501.7 339.2 L503.4 340.0 L505.1 340.8 L506.7 341.5 L508.4 342.2 L510.0 342.9 L511.7 343.5 L513.3 344.1 L515.0 344.7 L516.6 345.2 L518.2 345.7 L519.8 346.2 L521.4 346.6 L523.0 347.0 L524.6 347.3 L526.3 347.7 L528.0 348.0 L529.7 348.3 L531.5 348.6 L533.2 348.9 L535.0 349.2 L536.8 349.4 L538.6 349.6 L540.4 349.8 L542.2 349.9 L544.1 350.0 L546.0 350.0 L547.9 350.0 L549.9 350.0 L551.9 349.9 L554.0 349.8 L556.0 349.6 L558.0 349.4 L560.1 349.2 L562.1 348.9 L564.1 348.6 L566.0 348.2 L567.9 347.8 L569.8 347.3 L571.6 346.8 L573.4 346.2 L575.2 345.6 L577.0 344.9 L578.8 344.2 L580.6 343.5 L582.3 342.8 L584.0 342.0 L585.7 341.2 L587.4 340.3 L589.1 339.4 L590.8 338.5 L592.5 337.6 L594.1 336.6 L595.7 335.6 L597.2 334.5 L598.7 333.5 L600.0 332.5 L601.3 331.5 L602.4 330.4 L603.5 329.2 L604.6 328.1 L605.5 327.0 L606.5 325.8 L607.4 324.7 L608.3 323.6 L609.1 322.5 L610.0 321.5 L610.8 320.5 L611.6 319.6 L612.4 318.8 L613.1 317.9 L613.8 317.1 L614.5 316.3 L615.2 315.4 L615.9 314.5 L616.7 313.6 L617.5 312.5 L618.4 311.3 L619.3 310.1 L620.3 308.8 L621.3 307.4 L622.3 306.0 L623.4 304.6 L624.3 303.3 L625.3 301.9 L626.2 300.7 L627.0 299.5 L627.8 298.4 L628.5 297.4 L629.1 296.5 L629.8 295.6 L630.4 294.7 L631.0 293.8 L631.5 292.9 L632.0 292.0 L632.5 291.0 L633.0 290.0 L633.5 288.9 L633.9 287.7 L634.3 286.5 L634.7 285.3 L635.0 284.0 L635.3 282.8 L635.6 281.5 L635.9 280.3 L636.1 279.1 L636.3 278.0 L636.5 276.9 L636.6 275.9 L636.7 274.9 L636.7 273.9 L636.8 272.9 L636.8 271.9 L636.7 270.9 L636.7 270.0 L636.6 269.0 L636.5 268.0 L636.4 267.0 L636.3 266.0 L636.2 265.1 L636.0 264.1 L635.8 263.1 L635.6 262.1 L635.3 261.1 L635.0 260.1 L634.5 259.1 L634.0 258.0 L633.4 256.9 L632.6 255.8 L631.8 254.7 L630.9 253.6 L630.0 252.5 L629.0 251.3 L628.0 250.1 L627.0 248.8 L626.0 247.5 L625.0 246.0 L624.0 244.5 L623.0 242.9 L621.9 241.4 L620.8 239.7 L619.7 238.0 L618.6 236.2 L617.6 234.3 L616.6 232.3 L615.8 230.2 L615.0 228.0 L614.4 225.5 L614.0 222.8 L613.6 219.9 L613.4 216.9 L613.2 213.8 L613.0 210.8 L612.7 207.8 L612.3 205.0 L611.7 202.3 L611.0 200.0 L610.1 197.9 L609.0 196.0 L607.8 194.2 L606.5 192.6 L605.1 191.0 L603.7 189.6 L602.3 188.2 L600.8 187.0 L599.4 185.7 L598.0 184.5 L596.7 183.4 L595.3 182.3 L594.0 181.4 L592.7 180.5 L591.3 179.7 L589.9 178.9 L588.5 178.2 L587.1 177.5 L585.6 176.7 L584.0 176.0 L582.3 175.2 L580.6 174.5 L578.8 173.7 L576.9 172.9 L575.0 172.2 L573.1 171.5 L571.2 170.8 L569.4 170.2 L567.7 169.7Z" fill="url(#sphhl)"/>
<path d="M566.0 169.3 L564.4 169.0 L563.0 168.7 L561.5 168.5 L560.2 168.4 L558.8 168.3 L557.5 168.3 L556.2 168.3 L554.8 168.3 L553.4 168.3 L552.0 168.3 L550.6 168.3 L549.1 168.3 L547.7 168.3 L546.3 168.3 L544.8 168.3 L543.3 168.4 L541.8 168.5 L540.2 168.6 L538.5 168.8 L536.7 169.0 L534.8 169.2 L532.7 169.5 L530.6 169.8 L528.4 170.1 L526.1 170.4 L523.9 170.8 L521.6 171.3 L519.3 171.8 L517.1 172.3 L515.0 173.0 L512.9 173.7 L510.8 174.5 L508.8 175.4 L506.7 176.3 L504.7 177.3 L502.7 178.4 L500.7 179.4 L498.8 180.6 L496.9 181.8 L495.0 183.0 L493.2 184.3 L491.3 185.6 L489.5 187.1 L487.7 188.5 L486.0 190.1 L484.2 191.6 L482.6 193.2 L481.0 194.8 L479.5 196.4 L478.0 198.0 L476.6 199.6 L475.3 201.3 L474.0 202.9 L472.8 204.6 L471.7 206.3 L470.6 208.0 L469.6 209.8 L468.6 211.5 L467.6 213.3 L466.7 215.0 L465.8 216.8 L465.0 218.6 L464.2 220.4 L463.5 222.2 L462.8 224.0 L462.2 225.8 L461.6 227.6 L461.0 229.4 L460.5 231.2 L460.0 233.0 L459.5 234.7 L459.1 236.4 L458.7 238.1 L458.4 239.7 L458.1 241.4 L457.8 243.0 L457.5 244.7 L457.3 246.4 L457.1 248.2 L457.0 250.0 L456.9 251.9 L456.8 253.9 L456.8 255.9 L456.8 257.9 L456.8 260.0 L456.9 262.1 L457.0 264.1 L457.2 266.1 L457.3 268.1 L457.5 270.0 L457.7 271.8 L458.0 273.6 L458.3 275.4 L458.6 277.2 L458.9 278.9 L459.3 280.6 L459.7 282.2 L460.1 283.8 L460.5 285.4 L461.0 287.0 L461.5 288.5 L462.0 289.9 L462.5 291.3 L463.0 292.7 L463.5 294.0 L464.1 295.3 L464.8 296.7 L465.4 298.1 L466.2 299.5 L467.0 301.0 L467.9 302.6 L468.8 304.2 L469.7 305.9 L470.8 307.6 L471.8 309.3 L472.9 311.1 L474.1 312.8 L475.3 314.6 L476.6 316.3 L478.0 318.0 L479.5 319.7 L481.0 321.5 L482.7 323.4 L484.4 325.2 L486.1 327.0 L487.9 328.8 L489.7 330.5 L491.5 332.1 L493.3 333.6 L495.0 335.0 L496.7 336.2 L498.4 337.3 L500.0 338.3 L501.7 339.2 L503.4 340.0 L505.1 340.8 L506.7 341.5 L508.4 342.2 L510.0 342.9 L511.7 343.5 L513.3 344.1 L515.0 344.7 L516.6 345.2 L518.2 345.7 L519.8 346.2 L521.4 346.6 L523.0 347.0 L524.6 347.3 L526.3 347.7 L528.0 348.0 L529.7 348.3 L531.5 348.6 L533.2 348.9 L535.0 349.2 L536.8 349.4 L538.6 349.6 L540.4 349.8 L542.2 349.9 L544.1 350.0 L546.0 350.0 L547.9 350.0 L549.9 350.0 L551.9 349.9 L554.0 349.8 L556.0 349.6 L558.0 349.4 L560.1 349.2 L562.1 348.9 L564.1 348.6 L566.0 348.2 L567.9 347.8 L569.8 347.3 L571.6 346.8 L573.4 346.2 L575.2 345.6 L577.0 344.9 L578.8 344.2 L580.6 343.5 L582.3 342.8 L584.0 342.0 L585.7 341.2 L587.4 340.3 L589.1 339.4 L590.8 338.5 L592.5 337.6 L594.1 336.6 L595.7 335.6 L597.2 334.5 L598.7 333.5 L600.0 332.5 L601.3 331.5 L602.4 330.4 L603.5 329.2 L604.6 328.1 L605.5 327.0 L606.5 325.8 L607.4 324.7 L608.3 323.6 L609.1 322.5 L610.0 321.5 L610.8 320.5 L611.6 319.6 L612.4 318.8 L613.1 317.9 L613.8 317.1 L614.5 316.3 L615.2 315.4 L615.9 314.5 L616.7 313.6 L617.5 312.5 L618.4 311.3 L619.3 310.1 L620.3 308.8 L621.3 307.4 L622.3 306.0 L623.4 304.6 L624.3 303.3 L625.3 301.9 L626.2 300.7 L627.0 299.5 L627.8 298.4 L628.5 297.4 L629.1 296.5 L629.8 295.6 L630.4 294.7 L631.0 293.8 L631.5 292.9 L632.0 292.0 L632.5 291.0 L633.0 290.0 L633.5 288.9 L633.9 287.7 L634.3 286.5 L634.7 285.3 L635.0 284.0 L635.3 282.8 L635.6 281.5 L635.9 280.3 L636.1 279.1 L636.3 278.0 L636.5 276.9 L636.6 275.9 L636.7 274.9 L636.7 273.9 L636.8 272.9 L636.8 271.9 L636.7 270.9 L636.7 270.0 L636.6 269.0 L636.5 268.0 L636.4 267.0 L636.3 266.0 L636.2 265.1 L636.0 264.1 L635.8 263.1 L635.6 262.1 L635.3 261.1 L635.0 260.1 L634.5 259.1 L634.0 258.0 L633.4 256.9 L632.6 255.8 L631.8 254.7 L630.9 253.6 L630.0 252.5 L629.0 251.3 L628.0 250.1 L627.0 248.8 L626.0 247.5 L625.0 246.0 L624.0 244.5 L623.0 242.9 L621.9 241.4 L620.8 239.7 L619.7 238.0 L618.6 236.2 L617.6 234.3 L616.6 232.3 L615.8 230.2 L615.0 228.0 L614.4 225.5 L614.0 222.8 L613.6 219.9 L613.4 216.9 L613.2 213.8 L613.0 210.8 L612.7 207.8 L612.3 205.0 L611.7 202.3 L611.0 200.0 L610.1 197.9 L609.0 196.0 L607.8 194.2 L606.5 192.6 L605.1 191.0 L603.7 189.6 L602.3 188.2 L600.8 187.0 L599.4 185.7 L598.0 184.5 L596.7 183.4 L595.3 182.3 L594.0 181.4 L592.7 180.5 L591.3 179.7 L589.9 178.9 L588.5 178.2 L587.1 177.5 L585.6 176.7 L584.0 176.0 L582.3 175.2 L580.6 174.5 L578.8 173.7 L576.9 172.9 L575.0 172.2 L573.1 171.5 L571.2 170.8 L569.4 170.2 L567.7 169.7Z" fill="url(#shell)" clip-path="url(#shellclip)"/>
<path d="M556 170 C546 169.800 530 170.500 516 175 C504 179.500 490 188.500 480 199.500 C474 206 470 212 467 219" fill="none" stroke="#b5d7f9" stroke-width="2.200" opacity="0.9" stroke-linecap="round"/>
<path d="M618.6 235.3 L618.9 235.5 L619.2 235.7 L619.7 235.9 L620.1 236.2 L620.6 236.5 L621.2 236.9 L621.8 237.3 L622.3 237.6 L622.9 238.1 L623.5 238.5 L624.1 239.0 L624.7 239.5 L625.4 240.0 L626.1 240.5 L626.7 241.1 L627.4 241.7 L628.1 242.3 L628.8 242.9 L629.4 243.6 L630.0 244.2 L630.6 244.8 L631.1 245.5 L631.7 246.1 L632.2 246.8 L632.8 247.5 L633.3 248.2 L633.7 248.9 L634.2 249.6 L634.6 250.3 L635.0 251.0 L635.4 251.7 L635.7 252.5 L636.0 253.2 L636.2 254.0 L636.5 254.8 L636.7 255.5 L636.9 256.3 L637.1 257.1 L637.3 257.8 L637.4 258.5 L637.5 259.2 L637.6 259.9 L637.7 260.5 L637.8 261.1 L637.8 261.8 L637.8 262.4 L637.8 263.0 L637.8 263.7 L637.8 264.3 L637.8 265.0 L637.8 265.7 L637.8 266.4 L637.7 267.0 L637.7 267.7 L637.7 268.4 L637.6 269.1 L637.5 269.8 L637.4 270.5 L637.2 271.3 L637.0 272.0 L636.7 272.8 L636.5 273.6 L636.2 274.4 L635.8 275.2 L635.5 276.0 L635.0 276.9 L634.6 277.7 L634.1 278.5 L633.6 279.3 L633.0 280.0 L632.4 280.7 L631.7 281.4 L631.1 282.1 L630.3 282.7 L629.6 283.3 L628.8 284.0 L627.9 284.6 L627.0 285.2 L626.0 285.9 L625.0 286.5 L623.9 287.1 L622.8 287.8 L621.6 288.4 L620.4 289.1 L619.1 289.7 L617.7 290.4 L616.4 291.0 L614.9 291.7 L613.5 292.3 L612.0 293.0 L610.5 293.7 L608.9 294.4 L607.2 295.1 L605.5 295.9 L603.8 296.6 L602.0 297.4 L600.2 298.1 L598.5 298.8 L596.7 299.4 L595.0 300.0 L593.3 300.6 L591.7 301.1 L590.1 301.6 L588.4 302.1 L586.8 302.5 L585.2 303.0 L583.5 303.4 L581.7 303.8 L579.9 304.1 L578.0 304.5 L576.0 304.8 L574.0 305.2 L571.9 305.5 L569.8 305.8 L567.6 306.1 L565.3 306.3 L563.1 306.5 L560.7 306.7 L558.4 306.9 L556.0 307.0 L553.5 307.1 L551.0 307.2 L548.3 307.2 L545.6 307.2 L542.9 307.2 L540.2 307.1 L537.5 307.0 L534.9 306.9 L532.4 306.7 L530.0 306.5 L527.7 306.2 L525.6 305.9 L523.5 305.5 L521.4 305.1 L519.4 304.7 L517.5 304.2 L515.6 303.7 L513.7 303.1 L511.9 302.6 L510.0 302.0 L508.2 301.4 L506.3 300.7 L504.5 300.1 L502.7 299.3 L500.9 298.6 L499.2 297.8 L497.6 297.1 L496.0 296.4 L494.4 295.7 L493.0 295.0 L491.6 294.4 L490.3 293.7 L489.1 293.1 L487.9 292.5 L486.8 291.9 L485.8 291.3 L484.7 290.7 L483.8 290.2 L482.9 289.6 L482.0 289.0 L481.2 288.4 L480.4 287.9 L479.8 287.3 L479.1 286.8 L478.5 286.2 L478.0 285.7 L477.5 285.2 L477.0 284.6 L476.5 284.1 L476.0 283.5 L475.5 282.9 L475.1 282.2 L474.6 281.5 L474.2 280.8 L473.8 280.2 L473.4 279.5 L473.1 278.9 L472.8 278.3 L472.5 277.9 L472.3 277.5" fill="none" stroke="url(#dband)" stroke-width="11" clip-path="url(#sphclip)"/>
<path d="M618.6 235.3 L618.9 235.5 L619.2 235.7 L619.7 235.9 L620.1 236.2 L620.6 236.5 L621.2 236.9 L621.8 237.3 L622.3 237.6 L622.9 238.1 L623.5 238.5 L624.1 239.0 L624.7 239.5 L625.4 240.0 L626.1 240.5 L626.7 241.1 L627.4 241.7 L628.1 242.3 L628.8 242.9 L629.4 243.6 L630.0 244.2 L630.6 244.8 L631.1 245.5 L631.7 246.1 L632.2 246.8 L632.8 247.5 L633.3 248.2 L633.7 248.9 L634.2 249.6 L634.6 250.3 L635.0 251.0 L635.4 251.7 L635.7 252.5 L636.0 253.2 L636.2 254.0 L636.5 254.8 L636.7 255.5 L636.9 256.3 L637.1 257.1 L637.3 257.8 L637.4 258.5 L637.5 259.2 L637.6 259.9 L637.7 260.5 L637.8 261.1 L637.8 261.8 L637.8 262.4 L637.8 263.0 L637.8 263.7 L637.8 264.3 L637.8 265.0 L637.8 265.7 L637.8 266.4 L637.7 267.0 L637.7 267.7 L637.7 268.4 L637.6 269.1 L637.5 269.8 L637.4 270.5 L637.2 271.3 L637.0 272.0 L636.7 272.8 L636.5 273.6 L636.2 274.4 L635.8 275.2 L635.5 276.0 L635.0 276.9 L634.6 277.7 L634.1 278.5 L633.6 279.3 L633.0 280.0 L632.4 280.7 L631.7 281.4 L631.1 282.1 L630.3 282.7 L629.6 283.3 L628.8 284.0 L627.9 284.6 L627.0 285.2 L626.0 285.9 L625.0 286.5 L623.9 287.1 L622.8 287.8 L621.6 288.4 L620.4 289.1 L619.1 289.7 L617.7 290.4 L616.4 291.0 L614.9 291.7 L613.5 292.3 L612.0 293.0 L610.5 293.7 L608.9 294.4 L607.2 295.1 L605.5 295.9 L603.8 296.6 L602.0 297.4 L600.2 298.1 L598.5 298.8 L596.7 299.4 L595.0 300.0 L593.3 300.6 L591.7 301.1 L590.1 301.6 L588.4 302.1 L586.8 302.5 L585.2 303.0 L583.5 303.4 L581.7 303.8 L579.9 304.1 L578.0 304.5 L576.0 304.8 L574.0 305.2 L571.9 305.5 L569.8 305.8 L567.6 306.1 L565.3 306.3 L563.1 306.5 L560.7 306.7 L558.4 306.9 L556.0 307.0 L553.5 307.1 L551.0 307.2 L548.3 307.2 L545.6 307.2 L542.9 307.2 L540.2 307.1 L537.5 307.0 L534.9 306.9 L532.4 306.7 L530.0 306.5 L527.7 306.2 L525.6 305.9 L523.5 305.5 L521.4 305.1 L519.4 304.7 L517.5 304.2 L515.6 303.7 L513.7 303.1 L511.9 302.6 L510.0 302.0 L508.2 301.4 L506.3 300.7 L504.5 300.1 L502.7 299.3 L500.9 298.6 L499.2 297.8 L497.6 297.1 L496.0 296.4 L494.4 295.7 L493.0 295.0 L491.6 294.4 L490.3 293.7 L489.1 293.1 L487.9 292.5 L486.8 291.9 L485.8 291.3 L484.7 290.7 L483.8 290.2 L482.9 289.6 L482.0 289.0 L481.2 288.4 L480.4 287.9 L479.8 287.3 L479.1 286.8 L478.5 286.2 L478.0 285.7 L477.5 285.2 L477.0 284.6 L476.5 284.1 L476.0 283.5 L475.5 282.9 L475.1 282.2 L474.6 281.5 L474.2 280.8 L473.8 280.2 L473.4 279.5 L473.1 278.9 L472.8 278.3 L472.5 277.9 L472.3 277.5 L472.2 276.6 L472.1 275.3 L471.9 273.9 L471.7 272.2 L471.5 270.5 L471.3 268.7 L471.1 266.9 L471.0 265.1 L470.9 263.5 L470.8 262.0 L470.8 260.7 L470.8 259.4 L470.8 258.2 L470.8 257.0 L470.9 255.8 L471.0 254.7 L471.1 253.6 L471.2 252.4 L471.3 251.2 L471.5 250.0 L471.7 248.7 L471.9 247.5 L472.1 246.2 L472.4 244.9 L472.7 243.6 L472.9 242.2 L473.3 240.9 L473.6 239.6 L473.9 238.3 L474.3 237.0 L474.7 235.7 L475.1 234.4 L475.5 233.1 L475.9 231.8 L476.4 230.5 L476.8 229.2 L477.3 227.9 L477.9 226.6 L478.4 225.3 L479.0 224.0 L479.6 222.7 L480.2 221.3 L480.9 219.9 L481.6 218.6 L482.3 217.2 L483.0 215.8 L483.8 214.5 L484.6 213.1 L485.4 211.8 L486.2 210.5 L487.0 209.2 L487.9 207.9 L488.8 206.7 L489.7 205.4 L490.6 204.1 L491.6 202.9 L492.5 201.7 L493.5 200.5 L494.5 199.3 L495.5 198.2 L496.5 197.1 L497.5 196.0 L498.6 194.9 L499.6 193.9 L500.7 192.8 L501.8 191.8 L502.9 190.8 L504.1 189.9 L505.3 188.9 L506.5 188.0 L507.8 187.1 L509.1 186.2 L510.4 185.3 L511.7 184.4 L513.1 183.6 L514.5 182.7 L515.9 181.9 L517.4 181.2 L518.9 180.5 L520.5 179.8 L522.1 179.2 L523.8 178.6 L525.6 178.0 L527.4 177.5 L529.2 177.0 L531.1 176.5 L532.9 176.1 L534.7 175.7 L536.4 175.3 L538.0 175.0 L539.5 174.7 L541.0 174.4 L542.5 174.2 L543.9 174.0 L545.2 173.8 L546.6 173.7 L547.9 173.6 L549.3 173.4 L550.6 173.3 L552.0 173.2 L553.4 173.1 L554.8 173.0 L556.3 172.9 L557.7 172.8 L559.1 172.7 L560.5 172.7 L561.9 172.6 L563.3 172.6 L564.7 172.6 L566.0 172.6 L567.3 172.6 L568.6 172.7 L569.8 172.7 L571.1 172.8 L572.3 172.9 L573.5 173.0 L574.7 173.1 L575.8 173.3 L576.9 173.4 L578.0 173.6 L579.0 173.8 L579.9 173.9 L580.8 174.1 L581.6 174.2 L582.4 174.4 L583.3 174.6 L584.1 174.9 L585.0 175.2 L586.0 175.6 L587.0 176.0 L588.2 176.5 L589.4 177.1 L590.7 177.7 L592.1 178.3 L593.4 179.0 L594.8 179.8 L596.2 180.5 L597.5 181.3 L598.8 182.2 L600.0 183.0 L601.1 183.9 L602.3 184.8 L603.3 185.7 L604.4 186.6 L605.4 187.6 L606.4 188.6 L607.4 189.6 L608.3 190.7 L609.2 191.8 L610.0 193.0 L610.8 194.2 L611.5 195.5 L612.2 196.8 L612.9 198.1 L613.5 199.5 L614.1 200.9 L614.6 202.3 L615.1 203.7 L615.6 205.1 L616.0 206.5 L616.4 207.9 L616.7 209.3 L617.0 210.7 L617.3 212.1 L617.5 213.5 L617.7 214.9 L617.9 216.2 L618.0 217.5 L618.2 218.8 L618.3 220.0 L618.4 221.2 L618.5 222.3 L618.5 223.4 L618.6 224.5 L618.6 225.5 L618.6 226.5 L618.6 227.5 L618.6 228.4 L618.6 229.2 L618.6 230.0 L618.6 230.7 L618.6 231.4 L618.6 232.1 L618.6 232.7 L618.6 233.3 L618.6 233.8 L618.6 234.2 L618.6 234.7 L618.6 235.0 L618.6 235.3Z" fill="url(#face)"/>
<path d="M472.3 277.5 L472.2 276.6 L472.1 275.3 L471.9 273.9 L471.7 272.2 L471.5 270.5 L471.3 268.7 L471.1 266.9 L471.0 265.1 L470.9 263.5 L470.8 262.0 L470.8 260.7 L470.8 259.4 L470.8 258.2 L470.8 257.0 L470.9 255.8 L471.0 254.7 L471.1 253.6 L471.2 252.4 L471.3 251.2 L471.5 250.0 L471.7 248.7 L471.9 247.5 L472.1 246.2 L472.4 244.9 L472.7 243.6 L472.9 242.2 L473.3 240.9 L473.6 239.6 L473.9 238.3 L474.3 237.0 L474.7 235.7 L475.1 234.4 L475.5 233.1 L475.9 231.8 L476.4 230.5 L476.8 229.2 L477.3 227.9 L477.9 226.6 L478.4 225.3 L479.0 224.0 L479.6 222.7 L480.2 221.3 L480.9 219.9 L481.6 218.6 L482.3 217.2 L483.0 215.8 L483.8 214.5 L484.6 213.1 L485.4 211.8 L486.2 210.5 L487.0 209.2 L487.9 207.9 L488.8 206.7 L489.7 205.4 L490.6 204.1 L491.6 202.9 L492.5 201.7 L493.5 200.5 L494.5 199.3 L495.5 198.2 L496.5 197.1 L497.5 196.0 L498.6 194.9 L499.6 193.9 L500.7 192.8 L501.8 191.8 L502.9 190.8 L504.1 189.9 L505.3 188.9 L506.5 188.0 L507.8 187.1 L509.1 186.2 L510.4 185.3 L511.7 184.4 L513.1 183.6 L514.5 182.7 L515.9 181.9 L517.4 181.2 L518.9 180.5 L520.5 179.8 L522.1 179.2 L523.8 178.6 L525.6 178.0 L527.4 177.5 L529.2 177.0 L531.1 176.5 L532.9 176.1 L534.7 175.7 L536.4 175.3 L538.0 175.0 L539.5 174.7 L541.0 174.4 L542.5 174.2 L543.9 174.0 L545.2 173.8 L546.6 173.7 L547.9 173.6 L549.3 173.4 L550.6 173.3 L552.0 173.2 L553.4 173.1 L554.8 173.0 L556.3 172.9 L557.7 172.8 L559.1 172.7 L560.5 172.7 L561.9 172.6 L563.3 172.6 L564.7 172.6 L566.0 172.6 L567.3 172.6 L568.6 172.7 L569.8 172.7 L571.1 172.8 L572.3 172.9 L573.5 173.0 L574.7 173.1 L575.8 173.3 L576.9 173.4 L578.0 173.6 L579.0 173.8 L579.9 173.9 L580.8 174.1 L581.6 174.2 L582.4 174.4 L583.3 174.6 L584.1 174.9 L585.0 175.2 L586.0 175.6 L587.0 176.0 L588.2 176.5 L589.4 177.1 L590.7 177.7 L592.1 178.3 L593.4 179.0 L594.8 179.8 L596.2 180.5 L597.5 181.3 L598.8 182.2 L600.0 183.0 L601.1 183.9 L602.3 184.8 L603.3 185.7 L604.4 186.6 L605.4 187.6 L606.4 188.6 L607.4 189.6 L608.3 190.7 L609.2 191.8 L610.0 193.0 L610.8 194.2 L611.5 195.5 L612.2 196.8 L612.9 198.1 L613.5 199.5 L614.1 200.9 L614.6 202.3 L615.1 203.7 L615.6 205.1 L616.0 206.5 L616.4 207.9 L616.7 209.3 L617.0 210.7 L617.3 212.1 L617.5 213.5 L617.7 214.9 L617.9 216.2 L618.0 217.5 L618.2 218.8 L618.3 220.0 L618.4 221.2 L618.5 222.3 L618.5 223.4 L618.6 224.5 L618.6 225.5 L618.6 226.5 L618.6 227.5 L618.6 228.4 L618.6 229.2 L618.6 230.0 L618.6 230.7 L618.6 231.4 L618.6 232.1 L618.6 232.7 L618.6 233.3 L618.6 233.8 L618.6 234.2 L618.6 234.7 L618.6 235.0 L618.6 235.3" fill="none" stroke="url(#band)" stroke-width="8" clip-path="url(#faceclip)"/>
<path d="M472.3 277.5 L472.2 276.6 L472.1 275.3 L471.9 273.9 L471.7 272.2 L471.5 270.5 L471.3 268.7 L471.1 266.9 L471.0 265.1 L470.9 263.5 L470.8 262.0 L470.8 260.7 L470.8 259.4 L470.8 258.2 L470.8 257.0 L470.9 255.8 L471.0 254.7 L471.1 253.6 L471.2 252.4 L471.3 251.2 L471.5 250.0 L471.7 248.7 L471.9 247.5 L472.1 246.2 L472.4 244.9 L472.7 243.6 L472.9 242.2 L473.3 240.9 L473.6 239.6 L473.9 238.3 L474.3 237.0 L474.7 235.7 L475.1 234.4 L475.5 233.1 L475.9 231.8 L476.4 230.5 L476.8 229.2 L477.3 227.9 L477.9 226.6 L478.4 225.3 L479.0 224.0 L479.6 222.7 L480.2 221.3 L480.9 219.9 L481.6 218.6 L482.3 217.2 L483.0 215.8 L483.8 214.5 L484.6 213.1 L485.4 211.8 L486.2 210.5 L487.0 209.2 L487.9 207.9 L488.8 206.7 L489.7 205.4 L490.6 204.1 L491.6 202.9 L492.5 201.7 L493.5 200.5 L494.5 199.3 L495.5 198.2 L496.5 197.1 L497.5 196.0 L498.6 194.9 L499.6 193.9 L500.7 192.8 L501.8 191.8 L502.9 190.8 L504.1 189.9 L505.3 188.9 L506.5 188.0 L507.8 187.1 L509.1 186.2 L510.4 185.3 L511.7 184.4 L513.1 183.6 L514.5 182.7 L515.9 181.9 L517.4 181.2 L518.9 180.5 L520.5 179.8 L522.1 179.2 L523.8 178.6 L525.6 178.0 L527.4 177.5 L529.2 177.0 L531.1 176.5 L532.9 176.1 L534.7 175.7 L536.4 175.3 L538.0 175.0 L539.5 174.7 L541.0 174.4 L542.5 174.2 L543.9 174.0 L545.2 173.8 L546.6 173.7 L547.9 173.6 L549.3 173.4 L550.6 173.3 L552.0 173.2 L553.4 173.1 L554.8 173.0 L556.3 172.9 L557.7 172.8 L559.1 172.7 L560.5 172.7 L561.9 172.6 L563.3 172.6 L564.7 172.6 L566.0 172.6 L567.3 172.6 L568.6 172.7 L569.8 172.7 L571.1 172.8 L572.3 172.9 L573.5 173.0 L574.7 173.1 L575.8 173.3 L576.9 173.4 L578.0 173.6 L579.0 173.8 L579.9 173.9 L580.8 174.1 L581.6 174.2 L582.4 174.4 L583.3 174.6 L584.1 174.9 L585.0 175.2 L586.0 175.6 L587.0 176.0 L588.2 176.5 L589.4 177.1 L590.7 177.7 L592.1 178.3 L593.4 179.0 L594.8 179.8 L596.2 180.5 L597.5 181.3 L598.8 182.2 L600.0 183.0 L601.1 183.9 L602.3 184.8 L603.3 185.7 L604.4 186.6 L605.4 187.6 L606.4 188.6 L607.4 189.6 L608.3 190.7 L609.2 191.8 L610.0 193.0 L610.8 194.2 L611.5 195.5 L612.2 196.8 L612.9 198.1 L613.5 199.5 L614.1 200.9 L614.6 202.3 L615.1 203.7 L615.6 205.1 L616.0 206.5 L616.4 207.9 L616.7 209.3 L617.0 210.7 L617.3 212.1 L617.5 213.5 L617.7 214.9 L617.9 216.2 L618.0 217.5 L618.2 218.8 L618.3 220.0 L618.4 221.2 L618.5 222.3 L618.5 223.4 L618.6 224.5 L618.6 225.5 L618.6 226.5 L618.6 227.5 L618.6 228.4 L618.6 229.2 L618.6 230.0 L618.6 230.7 L618.6 231.4 L618.6 232.1 L618.6 232.7 L618.6 233.3 L618.6 233.8 L618.6 234.2 L618.6 234.7 L618.6 235.0 L618.6 235.3" fill="none" stroke="url(#edge)" stroke-width="1.200"/>
<path d="M618.6 235.3 L618.9 235.5 L619.2 235.7 L619.7 235.9 L620.1 236.2 L620.6 236.5 L621.2 236.9 L621.8 237.3 L622.3 237.6 L622.9 238.1 L623.5 238.5 L624.1 239.0 L624.7 239.5 L625.4 240.0 L626.1 240.5 L626.7 241.1 L627.4 241.7 L628.1 242.3 L628.8 242.9 L629.4 243.6 L630.0 244.2 L630.6 244.8 L631.1 245.5 L631.7 246.1 L632.2 246.8 L632.8 247.5 L633.3 248.2 L633.7 248.9 L634.2 249.6 L634.6 250.3 L635.0 251.0 L635.4 251.7 L635.7 252.5 L636.0 253.2 L636.2 254.0 L636.5 254.8 L636.7 255.5 L636.9 256.3 L637.1 257.1 L637.3 257.8 L637.4 258.5 L637.5 259.2 L637.6 259.9 L637.7 260.5 L637.8 261.1 L637.8 261.8 L637.8 262.4 L637.8 263.0 L637.8 263.7 L637.8 264.3 L637.8 265.0 L637.8 265.7 L637.8 266.4 L637.7 267.0 L637.7 267.7 L637.7 268.4 L637.6 269.1 L637.5 269.8 L637.4 270.5 L637.2 271.3 L637.0 272.0 L636.7 272.8 L636.5 273.6 L636.2 274.4 L635.8 275.2 L635.5 276.0 L635.0 276.9 L634.6 277.7 L634.1 278.5 L633.6 279.3 L633.0 280.0 L632.4 280.7 L631.7 281.4 L631.1 282.1 L630.3 282.7 L629.6 283.3 L628.8 284.0 L627.9 284.6 L627.0 285.2 L626.0 285.9 L625.0 286.5 L623.9 287.1 L622.8 287.8 L621.6 288.4 L620.4 289.1 L619.1 289.7 L617.7 290.4 L616.4 291.0 L614.9 291.7 L613.5 292.3 L612.0 293.0 L610.5 293.7 L608.9 294.4 L607.2 295.1 L605.5 295.9 L603.8 296.6 L602.0 297.4 L600.2 298.1 L598.5 298.8 L596.7 299.4 L595.0 300.0 L593.3 300.6 L591.7 301.1 L590.1 301.6 L588.4 302.1 L586.8 302.5 L585.2 303.0 L583.5 303.4 L581.7 303.8 L579.9 304.1 L578.0 304.5 L576.0 304.8 L574.0 305.2 L571.9 305.5 L569.8 305.8 L567.6 306.1 L565.3 306.3 L563.1 306.5 L560.7 306.7 L558.4 306.9 L556.0 307.0 L553.5 307.1 L551.0 307.2 L548.3 307.2 L545.6 307.2 L542.9 307.2 L540.2 307.1 L537.5 307.0 L534.9 306.9 L532.4 306.7 L530.0 306.5 L527.7 306.2 L525.6 305.9 L523.5 305.5 L521.4 305.1 L519.4 304.7 L517.5 304.2 L515.6 303.7 L513.7 303.1 L511.9 302.6 L510.0 302.0 L508.2 301.4 L506.3 300.7 L504.5 300.1 L502.7 299.3 L500.9 298.6 L499.2 297.8 L497.6 297.1 L496.0 296.4 L494.4 295.7 L493.0 295.0 L491.6 294.4 L490.3 293.7 L489.1 293.1 L487.9 292.5 L486.8 291.9 L485.8 291.3 L484.7 290.7 L483.8 290.2 L482.9 289.6 L482.0 289.0 L481.2 288.4 L480.4 287.9 L479.8 287.3 L479.1 286.8 L478.5 286.2 L478.0 285.7 L477.5 285.2 L477.0 284.6 L476.5 284.1 L476.0 283.5 L475.5 282.9 L475.1 282.2 L474.6 281.5 L474.2 280.8 L473.8 280.2 L473.4 279.5 L473.1 278.9 L472.8 278.3 L472.5 277.9 L472.3 277.5" fill="none" stroke="url(#edgeb)" stroke-width="1.600"/>
<g fill="none" stroke="#4a92ec" stroke-width="1.200" stroke-linecap="round"><path d="M611 304 C614 305.500 617.500 307 621.500 307.500"/><path d="M613 309.500 C616 312 620 313.500 624 313"/><path d="M609 313 C611 315 613 316.500 615.500 317"/></g>
<g fill="#c3e0fb"><path d="M527.500 327.500 C529.500 331.500 530.500 337 528.200 339.800 C525.300 338.500 525.200 332.500 527.500 327.500 Z"/><path d="M541.300 326 C543.500 330 544.500 336 542.200 338.800 C539.300 337.500 539.200 331 541.300 326 Z"/></g>
<path d="M520 322.500 C526 320 535 320 541 323.500" fill="none" stroke="#7ab6f5" stroke-width="1.200"/>
<g fill="#6a9fb6"><circle cx="498" cy="213" r="1.4"/><circle cx="551" cy="198" r="1.4"/><circle cx="576" cy="213" r="1.4"/><circle cx="597.5" cy="227.5" r="1.4"/><circle cx="484" cy="246" r="1.4"/><circle cx="509" cy="256" r="1.4"/><circle cx="489" cy="281" r="1.4"/><circle cx="493" cy="287.5" r="1.4"/><circle cx="551.7" cy="296" r="1.4"/><circle cx="507" cy="235" r="1.4"/><circle cx="617" cy="268" r="1.4"/><circle cx="621" cy="279.5" r="1.4"/><circle cx="630" cy="258" r="1.4"/><circle cx="567" cy="298" r="1.4"/><circle cx="517" cy="264" r="1.4"/></g>
<g fill="none" stroke-linecap="round">
<path d="M565 205.8 C572 203 579 197 583 192.5" stroke="#f4d3aa" stroke-width="2.3"/>
<path d="M494 273 C499 272 504 271 508 269.5" stroke="#e8cf8a" stroke-width="1.6"/>
<path d="M592 297.5 C598 296 605 293 610 290" stroke="#e4d47c" stroke-width="1.6"/>
</g>
<g transform="translate(522.3 197.8) rotate(-41)">
<path d="M-13.500 2 C-14.500 -3 -7 -6 0 -6 C7 -6 14.500 -3 13.500 2 C13 5.500 7 3 0 3 C-7 3 -13 5.500 -13.500 2 Z" fill="#dc4f84"/>
<path d="M-10.500 -1.200 C-5 -3.800 5 -3.800 10.500 -1.200" fill="none" stroke="#f6b2ca" stroke-width="2.300" stroke-linecap="round"/>
</g>
<g transform="translate(615 246.5) rotate(-6)">
<path d="M-12 -1.5 C-12 -5 -6 -5 0 -2.5 C6 -5.5 12 -5.500 12 -1.500 C12 3.500 6 5.500 0 5 C-6 5.500 -12 3.500 -12 -1.500 Z" fill="#c43f8a"/>
<path d="M-9 -0.500 C-4 2.500 4 2.500 9 -1.500" fill="none" stroke="#f09cc2" stroke-width="1.500" stroke-linecap="round"/>
</g>
<path d="M562 186 C561.500 182 564 179.500 567 180 C570 180.500 570.500 184 569.500 187.500 C568.500 191 566.500 193 564.500 192.500 C562.500 192 562 189 562 186 Z" fill="#4a90e4"/>
<path d="M564 184.500 C564.500 182.500 566 182 567.500 182.500" fill="none" stroke="#a6cdf7" stroke-width="1.300" stroke-linecap="round"/>
<ellipse cx="594.600" cy="208.400" rx="9.200" ry="10.300" fill="url(#lys)"/>
<path d="M592 203.500 C595 201.500 598.500 202.500 600.500 204.500 M593 208.500 C596 207 599.500 207.500 601.500 209.500 M593 213 C596 212 599 212.500 601 214" fill="none" stroke="#6fdc88" stroke-width="1.500" stroke-linecap="round" opacity="0.7"/>
<path d="M594 198.500 L596 196.500 L597.500 198.500 Z" fill="#1f8f3c"/>
<g>
<path d="M488 229.500 C491 227.500 494 228 495.500 230 L503 243 C504 245.500 503 247.500 500.500 248.500 C498 249.500 496 248.500 495 246.500 L487 233.500 C486 232 486.500 230.500 488 229.500 Z" fill="#f4a02a"/>
<path d="M488.500 231.500 L493.500 229.500 L496 233.500 L491 236 Z" fill="#c47318" opacity="0.75"/>
<g transform="translate(493 258.300) rotate(6)"><rect x="-10.800" y="-4.200" width="21.600" height="8.400" rx="3.600" fill="#f4a02a"/><path d="M-10.800 -0.600 C-10.800 -3 -9 -4.200 -7.200 -4.200 L-5.500 -4.200 L-5.500 4.200 L-7.200 4.200 C-9 4.200 -10.800 3 -10.800 0.600 Z" fill="#d98622" opacity="0.7"/><path d="M-3.500 -1.800 L7 -1.800" stroke="#fbc262" stroke-width="1.500" stroke-linecap="round" fill="none"/></g>
<path d="M494 236 L499.500 245" stroke="#fbc262" stroke-width="1.500" stroke-linecap="round" fill="none"/>
</g>
<g>
<path d="M507 279 L508.500 275.500 L513 274 L516 275.500 L518 273 L523 272.500 L526.500 274.500 L530 274 L533 277.500 L538 278 L541.500 281.500 L543.500 286 L541.500 290.500 L541 294.500 L536 297 L532.500 296 L529 299 L524 298 L521 296 L516 296 L513.500 292 L509.500 291 L508 286.500 L506.500 283 Z" fill="#15895b"/>
<path d="M510.500 280 C516 278 522 279 527 281.500 C531 283.500 536 284 540.500 283" fill="none" stroke="#2fa876" stroke-width="1.700"/>
<path d="M511.500 285.500 C517 284 523 285 528 287 C532 289 536 289.500 540.500 288.500" fill="none" stroke="#2fa876" stroke-width="1.700"/>
<path d="M516 291 C520 290 525 291 529 292.500 C532 293.500 535 294 538 293" fill="none" stroke="#2fa876" stroke-width="1.400"/>
<rect x="501.500" y="281" width="3.500" height="3.500" fill="#157f55"/><rect x="524.500" y="298" width="3" height="3" fill="#157f55"/><rect x="541.500" y="292" width="2.800" height="2.800" fill="#157f55"/><rect x="520" y="271" width="2.500" height="2.500" fill="#15895b"/>
</g>
<g id="er">
<path d="M510 240 C509.500 233 512 226 515 222.500 C515.500 218 518 215 520.500 214 C521.500 210 524 207.500 527 207.500 C529 204.500 532 203.500 535 204 C538 203 541.500 204 543 206 C546 206.500 549 209 550 213 C560 210 575 212 584 222 C589 228 592 238 593 246 C600 250 608 258 610.500 268 C611.500 276 609.500 285 605 290 L574 292 L563 291 C559 290 556 287.500 555 284 C551 282.500 548 280 547 277 C541 276.500 537 274 535 271 C530 270 526 267 524.500 263 C520 261 517 257 516.500 253 C513 250 510.500 245 510 240 Z" fill="#e4466f"/>
<g clip-path="url(#erclip)">
<g fill="none" stroke="#c82c58" stroke-width="1.300"><path d="M553.1 270.7 L550.3 269.6 L547.7 268.3 L545.2 266.8 L542.9 265.1 L540.7 263.2 L538.8 261.1 L537.1 258.9 L535.6 256.5 L534.3 254.0 L533.3 251.4 L532.6 248.8 L532.2 246.1 L532.0 243.3 L532.1 240.6 L532.5 237.9 L533.1 235.2 L534.1 232.6 L535.2 230.1 L536.7 227.7 L538.3 225.4 L540.2 223.3 L542.3 221.4 L544.6 219.6 L547.0 218.0"/><path d="M552.7 274.9 L549.5 273.8 L546.3 272.4 L543.4 270.7 L540.6 268.8 L538.0 266.6 L535.7 264.2 L533.6 261.6 L531.8 258.9 L530.3 256.0 L529.1 252.9 L528.3 249.8 L527.7 246.7 L527.5 243.5 L527.6 240.2 L528.1 237.1 L528.9 233.9 L530.0 230.9 L531.4 228.0 L533.1 225.2 L535.1 222.5 L537.3 220.1 L539.8 217.8 L542.6 215.8 L545.5 214.1"/><path d="M552.7 279.3 L548.9 278.1 L545.2 276.5 L541.7 274.7 L538.5 272.5 L535.5 270.1 L532.7 267.4 L530.3 264.4 L528.1 261.3 L526.4 258.0 L525.0 254.5 L523.9 250.9 L523.3 247.3 L523.0 243.6 L523.1 239.9 L523.7 236.2 L524.6 232.6 L525.9 229.1 L527.6 225.7 L529.6 222.5 L531.9 219.5 L534.6 216.7 L537.5 214.2 L540.7 212.0 L544.1 210.0"/><path d="M553.0 283.6 L548.6 282.4 L544.4 280.8 L540.4 278.8 L536.6 276.4 L533.1 273.7 L529.9 270.7 L527.0 267.4 L524.5 263.8 L522.5 260.1 L520.8 256.1 L519.6 252.1 L518.8 247.9 L518.5 243.7 L518.7 239.5 L519.3 235.3 L520.3 231.2 L521.8 227.2 L523.8 223.4 L526.1 219.8 L528.8 216.4 L531.9 213.3 L535.3 210.5 L539.0 208.0 L543.0 205.9"/><path d="M553.6 288.0 L548.6 286.8 L543.8 285.1 L539.2 282.9 L534.8 280.4 L530.8 277.4 L527.1 274.1 L523.9 270.4 L521.0 266.5 L518.6 262.3 L516.7 257.8 L515.3 253.3 L514.4 248.6 L514.0 243.9 L514.2 239.1 L514.9 234.4 L516.1 229.8 L517.8 225.3 L520.1 221.1 L522.8 217.0 L525.9 213.2 L529.4 209.8 L533.3 206.7 L537.6 204.0 L542.1 201.7"/></g>
<g fill="none" stroke="#f47d9c" stroke-width="1.800" opacity="0.7"><path d="M550.1 271.7 L547.4 270.5 L544.8 269.0 L542.4 267.4 L540.1 265.5 L538.0 263.5 L536.2 261.3 L534.5 258.9 L533.1 256.5 L531.9 253.9 L531.0 251.2 L530.3 248.5 L529.9 245.7 L529.8 243.0 L529.9 240.2 L530.3 237.4 L531.0 234.7 L531.9 232.0 L533.1 229.5 L534.6 227.0 L536.2 224.7 L538.1 222.5 L540.2 220.4 L542.4 218.6 L544.9 216.9"/><path d="M549.5 276.0 L546.3 274.7 L543.2 273.0 L540.3 271.2 L537.6 269.1 L535.2 266.8 L532.9 264.2 L531.0 261.5 L529.3 258.7 L527.9 255.7 L526.7 252.6 L525.9 249.5 L525.5 246.3 L525.3 243.0 L525.5 239.8 L525.9 236.5 L526.7 233.4 L527.8 230.3 L529.3 227.3 L531.0 224.5 L532.9 221.8 L535.2 219.3 L537.6 216.9 L540.3 214.8 L543.2 213.0"/><path d="M549.2 280.3 L545.5 278.9 L541.9 277.2 L538.5 275.1 L535.4 272.8 L532.5 270.2 L529.8 267.3 L527.5 264.3 L525.5 261.0 L523.8 257.6 L522.5 254.1 L521.6 250.5 L521.0 246.8 L520.8 243.1 L521.0 239.4 L521.5 235.7 L522.5 232.0 L523.8 228.5 L525.4 225.1 L527.4 221.9 L529.7 218.8 L532.3 216.0 L535.2 213.3 L538.4 211.0 L541.8 208.9"/><path d="M549.3 284.7 L545.0 283.2 L540.8 281.4 L536.9 279.1 L533.3 276.6 L529.9 273.7 L526.9 270.5 L524.2 267.1 L521.8 263.5 L519.9 259.7 L518.3 255.7 L517.2 251.6 L516.5 247.4 L516.3 243.2 L516.5 239.0 L517.1 234.8 L518.2 230.7 L519.7 226.7 L521.6 222.8 L523.9 219.2 L526.6 215.7 L529.7 212.6 L533.0 209.7 L536.6 207.1 L540.5 204.8"/><path d="M549.6 289.2 L544.7 287.6 L540.0 285.7 L535.6 283.3 L531.4 280.5 L527.5 277.4 L524.0 273.9 L520.9 270.1 L518.2 266.0 L515.9 261.8 L514.2 257.3 L512.9 252.7 L512.1 248.0 L511.8 243.3 L512.0 238.5 L512.8 233.8 L514.0 229.2 L515.7 224.8 L517.9 220.5 L520.6 216.4 L523.6 212.6 L527.1 209.0 L530.9 205.9 L535.1 203.0 L539.5 200.6"/></g>
<g fill="none" stroke="#d8426a" stroke-width="1.100"><path d="M533.3 261.1 L529.5 263.3"/><path d="M520.6 255.6 L516.3 256.8"/><path d="M532.7 236.9 L528.3 236.0"/><path d="M519.1 236.0 L514.7 235.3"/><path d="M532.4 259.9 L528.6 262.0"/><path d="M528.1 268.7 L524.6 271.3"/><path d="M518.5 241.4 L514.0 241.2"/><path d="M528.6 251.3 L524.3 252.3"/><path d="M533.5 261.5 L529.7 263.7"/><path d="M529.1 216.2 L525.6 213.5"/><path d="M535.1 230.4 L531.0 228.7"/><path d="M540.1 262.6 L536.7 265.3"/><path d="M535.1 255.6 L531.0 257.4"/><path d="M530.3 221.5 L526.6 219.2"/><path d="M518.7 247.1 L514.2 247.5"/><path d="M521.9 227.2 L517.7 225.7"/><path d="M520.0 253.5 L515.6 254.6"/><path d="M541.0 217.0 L538.1 213.7"/><path d="M539.9 223.7 L536.5 220.9"/><path d="M538.5 277.7 L535.9 281.1"/><path d="M526.7 267.0 L523.1 269.4"/><path d="M528.3 224.4 L524.4 222.3"/><path d="M519.4 251.4 L515.0 252.2"/><path d="M518.8 238.6 L514.3 238.2"/><path d="M523.3 238.3 L518.9 237.8"/><path d="M533.6 233.7 L529.4 232.4"/></g>
<g fill="none" stroke="#c82c58" stroke-width="1.300"><path d="M593.9 250.6 L593.3 252.5 L592.6 254.4 L591.7 256.2 L590.7 257.9 L589.6 259.6 L588.3 261.2 L587.0 262.8 L585.5 264.2 L584.0 265.5 L582.3 266.7 L580.6 267.9 L578.8 268.9 L576.9 269.8 L575.0 270.5 L573.0 271.2 L571.0 271.7 L568.9 272.1 L566.8 272.3 L564.7 272.4 L562.6 272.4 L560.6 272.3 L558.5 272.0 L556.4 271.6 L554.4 271.0"/><path d="M598.3 251.7 L597.6 253.8 L596.8 255.9 L595.8 257.9 L594.7 259.9 L593.5 261.7 L592.2 263.5 L590.7 265.2 L589.1 266.8 L587.4 268.4 L585.6 269.8 L583.7 271.0 L581.8 272.2 L579.7 273.2 L577.6 274.2 L575.4 274.9 L573.2 275.6 L570.9 276.1 L568.6 276.4 L566.3 276.7 L564.0 276.7 L561.7 276.7 L559.4 276.4 L557.1 276.1 L554.8 275.6"/><path d="M602.6 252.8 L601.9 255.1 L601.0 257.4 L600.0 259.6 L598.8 261.7 L597.5 263.8 L596.1 265.7 L594.5 267.6 L592.8 269.4 L591.0 271.1 L589.0 272.6 L587.0 274.1 L584.9 275.4 L582.7 276.6 L580.4 277.6 L578.1 278.6 L575.7 279.3 L573.3 280.0 L570.8 280.5 L568.3 280.8 L565.7 281.0 L563.2 281.0 L560.7 280.9 L558.2 280.6 L555.7 280.2"/><path d="M607.0 253.9 L606.2 256.4 L605.3 258.8 L604.2 261.2 L602.9 263.5 L601.5 265.7 L600.0 267.8 L598.3 269.9 L596.5 271.8 L594.6 273.7 L592.6 275.4 L590.5 277.0 L588.2 278.5 L585.9 279.8 L583.5 281.0 L581.0 282.1 L578.5 283.0 L575.9 283.7 L573.3 284.4 L570.6 284.8 L567.9 285.1 L565.2 285.3 L562.4 285.2 L559.7 285.1 L557.0 284.8"/></g>
<g fill="none" stroke="#f47d9c" stroke-width="1.600" opacity="0.7"><path d="M595.6 252.7 L594.9 254.6 L594.0 256.4 L593.1 258.2 L592.1 259.9 L590.9 261.5 L589.6 263.1 L588.2 264.5 L586.8 265.9 L585.2 267.2 L583.6 268.5 L581.9 269.6 L580.1 270.6 L578.2 271.5 L576.3 272.3 L574.4 273.0 L572.4 273.5 L570.4 274.0 L568.3 274.3 L566.3 274.5 L564.2 274.5 L562.1 274.5 L560.0 274.3 L558.0 274.0 L556.0 273.6"/><path d="M599.9 254.1 L599.1 256.1 L598.2 258.1 L597.2 260.0 L596.0 261.9 L594.8 263.7 L593.4 265.4 L591.9 267.1 L590.3 268.6 L588.7 270.1 L586.9 271.4 L585.1 272.7 L583.1 273.9 L581.1 274.9 L579.1 275.8 L577.0 276.6 L574.8 277.3 L572.6 277.9 L570.4 278.3 L568.1 278.6 L565.9 278.8 L563.6 278.8 L561.3 278.7 L559.1 278.5 L556.8 278.2"/><path d="M604.1 255.4 L603.3 257.6 L602.3 259.7 L601.3 261.8 L600.0 263.8 L598.7 265.8 L597.3 267.7 L595.7 269.5 L594.0 271.2 L592.2 272.8 L590.4 274.3 L588.4 275.7 L586.4 277.0 L584.2 278.2 L582.1 279.2 L579.8 280.2 L577.5 281.0 L575.2 281.7 L572.8 282.2 L570.4 282.6 L567.9 282.9 L565.5 283.1 L563.0 283.1 L560.6 283.0 L558.1 282.7"/></g>
<g fill="none" stroke="#c92f5a" stroke-width="1.300" opacity="0.8"><path d="M593.5 252.1 L611.6 257.7"/><path d="M591.9 255.9 L608.9 263.8"/><path d="M589.7 259.5 L605.5 269.6"/><path d="M587.0 262.7 L601.2 274.8"/><path d="M583.9 265.6 L596.1 279.4"/><path d="M580.4 268.0 L590.5 283.3"/></g>
</g>
<path d="M573 281 C580 283 590 281.500 598 277.500 C604 274.500 608 271.500 610.500 268.500 C612 276 610.500 284 605.500 289.500 C600 292.500 594 293.500 590 293.500 L574 293.500 Z" fill="url(#ser)"/>
<g stroke="#e8585e" stroke-width="2" fill="none" stroke-linecap="round"><path d="M578.500 281.500 L578 289"/><path d="M585.500 281.500 L585.500 289.500"/><path d="M592.500 279.500 L593.500 288"/><path d="M599 276.500 L601 285.500"/><path d="M604.500 273 L607 282"/></g>
<path d="M573 281 C580 283 590 281.500 598 277.500 C604 274.500 608 271.500 610.500 268.500" stroke="#d94a50" stroke-width="1.400" fill="none"/>
<g>
<path d="M534.0 245.0 L534.0 244.0 L534.0 242.8 L534.1 241.6 L534.2 240.4 L534.4 239.1 L534.6 237.8 L534.8 236.6 L535.1 235.3 L535.4 234.1 L535.8 233.0 L536.2 231.9 L536.7 230.8 L537.2 229.7 L537.7 228.7 L538.3 227.6 L539.0 226.6 L539.6 225.7 L540.3 224.7 L541.0 223.8 L541.7 223.0 L542.4 222.2 L543.2 221.5 L543.9 220.7 L544.7 220.1 L545.5 219.4 L546.3 218.8 L547.2 218.3 L548.1 217.7 L549.0 217.2 L550.0 216.7 L551.0 216.2 L552.1 215.7 L553.3 215.3 L554.5 214.8 L555.7 214.4 L556.9 214.1 L558.1 213.8 L559.3 213.6 L560.5 213.4 L561.7 213.3 L562.9 213.3 L564.0 213.3 L565.2 213.5 L566.3 213.6 L567.5 213.9 L568.6 214.2 L569.7 214.5 L570.8 214.9 L571.9 215.3 L573.0 215.8 L574.1 216.3 L575.2 216.9 L576.2 217.6 L577.3 218.3 L578.4 219.0 L579.4 219.8 L580.4 220.6 L581.3 221.4 L582.2 222.2 L583.0 223.0 L583.7 223.8 L584.4 224.7 L585.1 225.5 L585.7 226.4 L586.2 227.3 L586.7 228.2 L587.2 229.1 L587.7 230.0 L588.1 230.8 L588.5 231.7 L588.9 232.6 L589.2 233.4 L589.4 234.3 L589.6 235.1 L589.8 236.0 L590.0 236.8 L590.2 237.6 L590.5 238.4 L590.7 239.2 L591.0 240.0 L591.4 240.7 L591.8 241.4 L592.2 242.1 L592.7 242.7 L593.2 243.3 L593.7 244.0 L594.1 244.6 L594.5 245.3 L594.8 246.0 L595.0 246.7 L595.2 247.5 L595.3 248.3 L595.3 249.1 L595.4 250.0 L595.3 250.8 L595.3 251.7 L595.2 252.6 L595.0 253.4 L594.8 254.2 L594.5 255.0 L594.2 255.7 L593.8 256.5 L593.4 257.2 L592.9 257.9 L592.4 258.6 L591.8 259.3 L591.2 259.9 L590.5 260.5 L589.8 261.1 L589.0 261.7 L588.1 262.2 L587.2 262.8 L586.2 263.2 L585.1 263.7 L584.0 264.2 L582.9 264.6 L581.7 265.0 L580.6 265.3 L579.4 265.7 L578.3 266.0 L577.2 266.3 L576.1 266.6 L575.0 266.9 L573.8 267.1 L572.7 267.3 L571.5 267.5 L570.4 267.6 L569.2 267.7 L567.9 267.8 L566.7 267.8 L565.4 267.7 L564.0 267.6 L562.6 267.5 L561.2 267.3 L559.8 267.1 L558.3 266.8 L556.9 266.5 L555.5 266.2 L554.2 265.9 L553.0 265.5 L551.8 265.1 L550.7 264.7 L549.6 264.3 L548.6 263.8 L547.5 263.3 L546.6 262.8 L545.6 262.3 L544.7 261.7 L543.8 261.1 L543.0 260.5 L542.2 259.9 L541.4 259.2 L540.7 258.4 L540.0 257.7 L539.4 256.9 L538.8 256.2 L538.2 255.4 L537.7 254.6 L537.2 253.8 L536.7 253.0 L536.3 252.2 L535.9 251.5 L535.5 250.8 L535.1 250.0 L534.8 249.3 L534.6 248.5 L534.4 247.7 L534.2 246.9 L534.1 246.0Z" fill="#cb2953"/>
<path d="M538.5 246.0 L538.5 245.1 L538.5 244.1 L538.6 243.1 L538.7 242.0 L538.8 240.8 L538.9 239.7 L539.1 238.6 L539.4 237.5 L539.7 236.5 L540.0 235.5 L540.4 234.6 L540.8 233.7 L541.3 232.8 L541.9 232.0 L542.4 231.1 L543.0 230.3 L543.7 229.6 L544.3 228.8 L544.9 228.1 L545.5 227.5 L546.1 226.9 L546.7 226.3 L547.3 225.8 L547.9 225.3 L548.5 224.9 L549.1 224.5 L549.8 224.1 L550.5 223.7 L551.2 223.3 L552.0 223.0 L552.8 222.7 L553.7 222.3 L554.7 222.0 L555.7 221.7 L556.7 221.4 L557.7 221.2 L558.7 221.0 L559.7 220.8 L560.7 220.7 L561.7 220.6 L562.7 220.6 L563.6 220.5 L564.6 220.6 L565.5 220.6 L566.5 220.7 L567.4 220.9 L568.3 221.0 L569.2 221.3 L570.1 221.5 L571.0 221.8 L571.9 222.1 L572.7 222.5 L573.6 223.0 L574.4 223.4 L575.2 224.0 L576.0 224.5 L576.8 225.1 L577.6 225.6 L578.3 226.2 L579.0 226.8 L579.7 227.4 L580.3 228.0 L580.9 228.7 L581.5 229.3 L582.1 230.0 L582.6 230.7 L583.1 231.4 L583.6 232.1 L584.1 232.8 L584.5 233.5 L584.9 234.2 L585.2 234.9 L585.5 235.6 L585.8 236.3 L586.1 237.0 L586.3 237.7 L586.6 238.4 L586.8 239.1 L587.2 239.8 L587.5 240.5 L587.9 241.2 L588.4 241.8 L588.9 242.5 L589.4 243.1 L590.0 243.8 L590.5 244.4 L591.0 245.0 L591.4 245.7 L591.7 246.3 L592.0 247.0 L592.2 247.7 L592.3 248.4 L592.4 249.1 L592.4 249.8 L592.3 250.6 L592.3 251.3 L592.1 252.0 L592.0 252.7 L591.8 253.4 L591.5 254.0 L591.2 254.6 L590.9 255.2 L590.5 255.8 L590.0 256.4 L589.6 256.9 L589.0 257.5 L588.5 258.0 L587.9 258.5 L587.2 259.0 L586.5 259.5 L585.7 260.0 L584.9 260.4 L584.0 260.9 L583.1 261.3 L582.1 261.8 L581.1 262.2 L580.1 262.5 L579.0 262.9 L578.0 263.2 L577.0 263.5 L576.0 263.8 L575.0 264.0 L574.0 264.2 L573.0 264.4 L572.0 264.6 L571.0 264.8 L569.9 264.9 L568.9 265.0 L567.8 265.0 L566.7 265.0 L565.6 265.0 L564.4 264.9 L563.2 264.7 L562.0 264.6 L560.8 264.4 L559.6 264.1 L558.4 263.9 L557.2 263.6 L556.1 263.3 L555.0 263.0 L554.0 262.7 L553.0 262.3 L552.0 261.9 L551.0 261.5 L550.1 261.0 L549.2 260.5 L548.4 260.0 L547.5 259.5 L546.7 259.0 L546.0 258.5 L545.3 258.0 L544.6 257.4 L544.0 256.8 L543.4 256.2 L542.8 255.6 L542.3 255.0 L541.8 254.4 L541.3 253.8 L540.9 253.1 L540.5 252.5 L540.1 251.9 L539.8 251.3 L539.5 250.7 L539.3 250.1 L539.1 249.5 L538.9 248.9 L538.7 248.3 L538.6 247.6 L538.5 246.8Z" fill="#f4869c"/>
<path d="M539.3 250.3 L539.6 250.6 L540.0 250.9 L540.5 251.3 L541.1 251.7 L541.6 252.2 L542.3 252.7 L542.9 253.2 L543.6 253.7 L544.3 254.1 L545.0 254.5 L545.7 254.8 L546.4 255.2 L547.2 255.5 L548.0 255.8 L548.8 256.1 L549.6 256.4 L550.5 256.6 L551.3 256.9 L552.1 257.1 L553.0 257.3 L553.9 257.5 L554.7 257.7 L555.6 257.8 L556.5 257.9 L557.4 258.1 L558.4 258.2 L559.3 258.2 L560.2 258.3 L561.1 258.3 L562.0 258.3 L562.9 258.3 L563.8 258.2 L564.7 258.1 L565.6 258.0 L566.6 257.9 L567.5 257.7 L568.4 257.5 L569.3 257.3 L570.1 257.1 L571.0 256.8 L571.9 256.5 L572.7 256.1 L573.6 255.7 L574.4 255.3 L575.2 254.8 L576.0 254.3 L576.8 253.8 L577.6 253.3 L578.3 252.8 L579.0 252.3 L579.7 251.8 L580.3 251.2 L580.9 250.7 L581.5 250.1 L582.1 249.5 L582.6 248.9 L583.1 248.3 L583.6 247.7 L584.1 247.1 L584.5 246.5 L584.9 245.9 L585.3 245.2 L585.7 244.5 L586.0 243.8 L586.3 243.1 L586.6 242.5 L586.9 241.9 L587.1 241.3 L587.3 240.9 L587.5 240.5 L587.8 240.9 L588.2 241.4 L588.7 242.0 L589.2 242.6 L589.8 243.3 L590.3 244.1 L590.9 244.8 L591.3 245.6 L591.7 246.3 L592.0 247.0 L592.2 247.7 L592.3 248.4 L592.4 249.1 L592.4 249.8 L592.3 250.6 L592.3 251.3 L592.1 252.0 L592.0 252.7 L591.8 253.4 L591.5 254.0 L591.2 254.6 L590.9 255.2 L590.5 255.8 L590.0 256.4 L589.6 256.9 L589.0 257.5 L588.5 258.0 L587.9 258.5 L587.2 259.0 L586.5 259.5 L585.7 260.0 L584.9 260.4 L584.0 260.9 L583.1 261.3 L582.1 261.8 L581.1 262.2 L580.1 262.5 L579.0 262.9 L578.0 263.2 L577.0 263.5 L576.0 263.8 L575.0 264.0 L574.0 264.2 L573.0 264.4 L572.0 264.6 L571.0 264.8 L569.9 264.9 L568.9 265.0 L567.8 265.0 L566.7 265.0 L565.6 265.0 L564.4 264.9 L563.2 264.7 L562.0 264.6 L560.8 264.4 L559.6 264.1 L558.4 263.9 L557.2 263.6 L556.1 263.3 L555.0 263.0 L554.0 262.7 L553.0 262.3 L552.0 261.9 L551.0 261.5 L550.1 261.0 L549.2 260.5 L548.4 260.0 L547.5 259.5 L546.7 259.0 L546.0 258.5 L545.3 257.9 L544.6 257.3 L544.0 256.7 L543.3 256.0 L542.8 255.4 L542.2 254.7 L541.7 254.1 L541.3 253.5 L540.9 253.0 L540.5 252.5 L540.2 252.1 L540.0 251.8 L539.8 251.5 L539.7 251.2 L539.6 251.0 L539.5 250.8 L539.4 250.7 L539.4 250.5 L539.4 250.4 L539.3 250.3Z" fill="#f9a6b5"/>
<path d="M539.3 250.3 L539.6 250.6 L540.0 250.9 L540.5 251.3 L541.1 251.7 L541.6 252.2 L542.3 252.7 L542.9 253.2 L543.6 253.7 L544.3 254.1 L545.0 254.5 L545.7 254.8 L546.4 255.2 L547.2 255.5 L548.0 255.8 L548.8 256.1 L549.6 256.4 L550.5 256.6 L551.3 256.9 L552.1 257.1 L553.0 257.3 L553.9 257.5 L554.7 257.7 L555.6 257.8 L556.5 257.9 L557.4 258.1 L558.4 258.2 L559.3 258.2 L560.2 258.3 L561.1 258.3 L562.0 258.3 L562.9 258.3 L563.8 258.2 L564.7 258.1 L565.6 258.0 L566.6 257.9 L567.5 257.7 L568.4 257.5 L569.3 257.3 L570.1 257.1 L571.0 256.8 L571.9 256.5 L572.7 256.1 L573.6 255.7 L574.4 255.3 L575.2 254.8 L576.0 254.3 L576.8 253.8 L577.6 253.3 L578.3 252.8 L579.0 252.3 L579.7 251.8 L580.3 251.2 L580.9 250.7 L581.5 250.1 L582.1 249.5 L582.6 248.9 L583.1 248.3 L583.6 247.7 L584.1 247.1 L584.5 246.5 L584.9 245.9 L585.3 245.2 L585.7 244.5 L586.0 243.8 L586.3 243.1 L586.6 242.5 L586.9 241.9 L587.1 241.3 L587.3 240.9 L587.5 240.5" fill="none" stroke="#e46a86" stroke-width="0.8" opacity="0.8"/>
<circle cx="564.200" cy="245.100" r="11.700" fill="url(#nucl)"/>
<g fill="#eaf2ff" transform="translate(0.3 0.2)"><ellipse cx="560" cy="243" rx="2" ry="1.400"/><ellipse cx="566.500" cy="242.500" rx="1.800" ry="1.300"/><ellipse cx="563.500" cy="240" rx="1" ry="0.8"/><ellipse cx="568" cy="246" rx="1" ry="0.8"/></g>
</g>
</g>
</g>
</g>
<g filter="url(#soft2)">
<g id="lines" class="ln">
<path d="M74 186 L74 212"/>
<path d="M152 159.5 L176 224"/>
<path d="M236 155 L236 236"/>
<path d="M303.700 194.500 L273 232.500"/>
<path d="M325 292.500 L298.500 274"/>
<path d="M287.500 321.500 L272.500 280"/>
<path d="M244 352.500 L236 282.500"/>
<path d="M152.500 360 L204 280"/>
<path d="M107.500 320 L164 262"/>
</g>
<g id="lines2" class="ln" style="stroke:#2c3038;stroke-opacity:0.6;stroke-width:1">
<path d="M497.500 152.500 L524 190"/>
<path d="M451 176 L497.500 213"/>
<path d="M439 216 L490 232.500"/>
<path d="M550.500 142.500 L559 211"/>
<path d="M604 151 L571 182.500"/>
<path d="M635 177 L604 206"/>
<path d="M642.500 217.500 L572 245"/>
<path d="M426 254 L505 272.500"/>
<path d="M434 296.500 L492.500 288"/>
<path d="M445.500 330.500 L490 335.500"/>
<path d="M650 251 L624 247.500"/>
<path d="M655 291 L607.500 280"/>
<path d="M627.500 342.500 L592.500 291"/>
<path d="M492.500 352.500 L525 299"/>
<path d="M557.500 377.500 L557.500 307.500"/>
</g>
<g fill="#333">
<circle cx="74" cy="212.500" r="1.4"/><circle cx="176" cy="224.500" r="1.4"/><circle cx="273" cy="233" r="1.4"/>
<circle cx="298.500" cy="274" r="1.4"/><circle cx="164" cy="262" r="1.4"/><circle cx="204" cy="280" r="1.4"/>
<circle cx="236" cy="283" r="1.4"/><circle cx="272.5" cy="280" r="1.4"/>
</g>

<g id="titles">
<text class="t" x="92.2" y="88.3" fill="#cb5631" stroke="#cb5631" textLength="174.6" lengthAdjust="spacingAndGlyphs">PROKARYOTIC CELL</text>
<text class="t" x="460.9" y="88.3" fill="#3a79c9" stroke="#3a79c9" textLength="162.6" lengthAdjust="spacingAndGlyphs">EUKARYOTIC CELL</text>
</g>
<g id="labels">
<text class="l" x="49" y="183" textLength="36.0" lengthAdjust="spacingAndGlyphs">Fagellum</text>
<text class="l" x="116" y="157.5" textLength="39.0" lengthAdjust="spacingAndGlyphs">Ribosome</text>
<text class="l" x="205" y="151" textLength="52.0" lengthAdjust="spacingAndGlyphs">Chromosome</text>
<text class="l" x="286" y="185" textLength="68.0" lengthAdjust="spacingAndGlyphs">Nutrient granules</text>
<text class="l" x="330" y="301.2" textLength="18.5" lengthAdjust="spacingAndGlyphs">Pilus</text>
<text class="l" x="264" y="332.7" textLength="63.5" lengthAdjust="spacingAndGlyphs">Mucous capsule</text>
<text class="l" x="226" y="364.3" textLength="32.5" lengthAdjust="spacingAndGlyphs">Cell wall</text>
<text class="l" x="100" y="367.8" textLength="91.5" lengthAdjust="spacingAndGlyphs">Cytoplasmic membrane</text>
<text class="l" x="77.5" y="330" textLength="42.5" lengthAdjust="spacingAndGlyphs">Cytoplasm</text>
<text class="l e" x="452.9" y="147.5" textLength="66.7" lengthAdjust="spacingAndGlyphs">Nuclear membrane</text>
<text class="l e" x="537.5" y="139.5" textLength="27.5" lengthAdjust="spacingAndGlyphs">Nucleus</text>
<text class="l e" x="590" y="147.5" textLength="27.5" lengthAdjust="spacingAndGlyphs">Vacuole</text>
<text class="l e" x="422.2" y="174.3" textLength="35.1" lengthAdjust="spacingAndGlyphs">Ribosome</text>
<text class="l e" x="626" y="174.5" textLength="38.0" lengthAdjust="spacingAndGlyphs">Lysosomes</text>
<text class="l e" x="390" y="217.5" textLength="46.0" lengthAdjust="spacingAndGlyphs">Microtubules</text>
<text class="l e" x="644.5" y="217.5" textLength="29.5" lengthAdjust="spacingAndGlyphs">Nucleoli</text>
<text class="l e" x="389" y="254" textLength="35.0" lengthAdjust="spacingAndGlyphs">Centrioles</text>
<text class="l e" x="652" y="254" textLength="47.0" lengthAdjust="spacingAndGlyphs">Mitochondria</text>
<text class="l e" x="393" y="299" textLength="36.5" lengthAdjust="spacingAndGlyphs">Cytoplasm</text>
<text class="l e" x="665.5" y="288" textLength="26.5" lengthAdjust="spacingAndGlyphs">Smooth</text>
<text class="l e" x="656" y="298.5" textLength="44.0" lengthAdjust="spacingAndGlyphs">Endoplasmic</text>
<text class="l e" x="661.5" y="309" textLength="34.5" lengthAdjust="spacingAndGlyphs">Reticulum</text>
<text class="l e" x="411" y="332.5" textLength="31.5" lengthAdjust="spacingAndGlyphs">Microvilli</text>
<text class="l e" x="630" y="349" textLength="70.0" lengthAdjust="spacingAndGlyphs">Rough Endoplasmic</text>
<text class="l e" x="648" y="360" textLength="34.0" lengthAdjust="spacingAndGlyphs">Reticulum</text>
<text class="l e" x="449" y="365" textLength="51.0" lengthAdjust="spacingAndGlyphs">Golgi Complex</text>
<text class="l e" x="525" y="384" textLength="60.0" lengthAdjust="spacingAndGlyphs">Plasma Memeane</text>
</g>
</g>
</svg>
</body>
</html>
